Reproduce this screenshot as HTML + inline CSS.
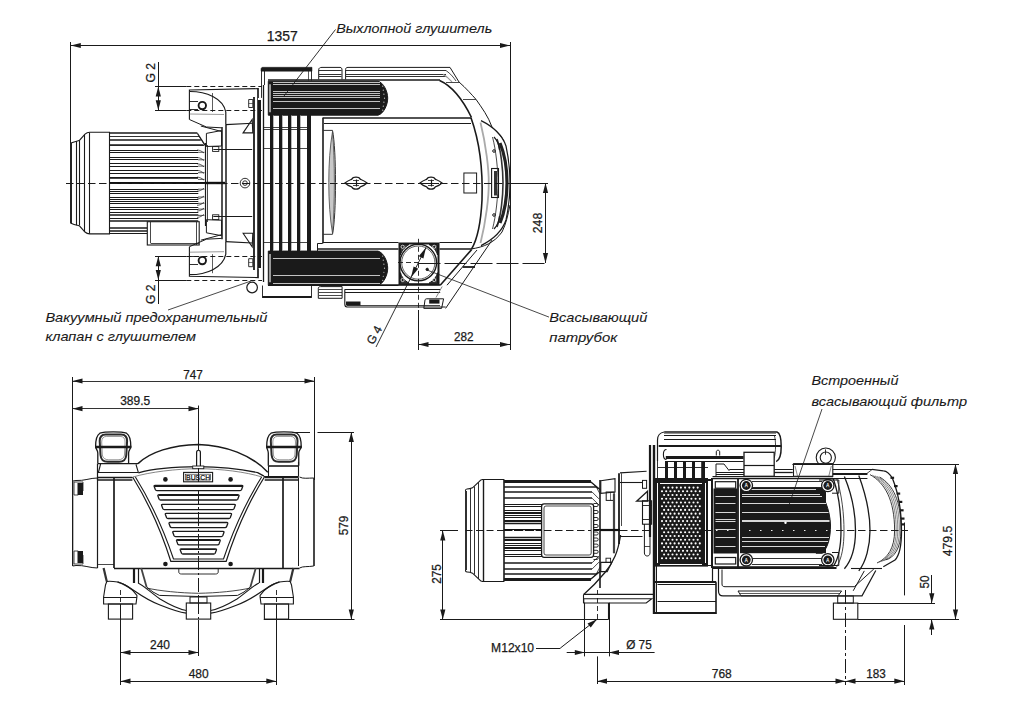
<!DOCTYPE html>
<html><head><meta charset="utf-8"><style>
html,body{margin:0;padding:0;background:#fff;overflow:hidden;}
svg{display:block;}
text{font-family:"Liberation Sans",sans-serif;}
</style></head><body>
<svg width="1024" height="721" viewBox="0 0 1024 721">
<rect width="1024" height="721" fill="#fff"/>
<path d="M71,143 C74,141.6 77,141 79.4,140.4 L85,134.2 C86.5,132.8 88,132.3 89.6,132.3 L109.5,132.3 L109.5,233.9 L89.6,233.9 C88,233.9 86.5,233.4 85,232 L79.4,225.8 C77,225.2 74,224.6 71,223.2 Z" stroke="#1a1a1a" stroke-width="1.1" fill="none"/>
<line x1="71" y1="143" x2="71" y2="223.2" stroke="#1a1a1a" stroke-width="1.8"/>
<line x1="76.5" y1="141" x2="76.5" y2="225.2" stroke="#1a1a1a" stroke-width="1.1"/>
<line x1="79.5" y1="141" x2="79.5" y2="225.2" stroke="#1a1a1a" stroke-width="1.1"/>
<line x1="84.5" y1="134.5" x2="84.5" y2="231.7" stroke="#1a1a1a" stroke-width="1.1"/>
<line x1="89.5" y1="132.5" x2="89.5" y2="233.7" stroke="#1a1a1a" stroke-width="1.1"/>
<line x1="109.5" y1="133" x2="197.4" y2="133" stroke="#1a1a1a" stroke-width="1.6"/>
<line x1="109.5" y1="136.5" x2="198.995" y2="136.5" stroke="#1a1a1a" stroke-width="0.9"/>
<line x1="109.5" y1="140" x2="200.81" y2="140" stroke="#1a1a1a" stroke-width="1.5"/>
<line x1="109.5" y1="145" x2="203.56" y2="145" stroke="#1a1a1a" stroke-width="1.5"/>
<line x1="109.5" y1="145.5" x2="204.275" y2="145.5" stroke="#1a1a1a" stroke-width="0.8"/>
<line x1="109.5" y1="150.5" x2="198" y2="150.5" stroke="#1a1a1a" stroke-width="1"/>
<line x1="109.5" y1="152.5" x2="198" y2="152.5" stroke="#1a1a1a" stroke-width="1"/>
<line x1="109.5" y1="157.5" x2="198" y2="157.5" stroke="#1a1a1a" stroke-width="1"/>
<line x1="109.5" y1="159.5" x2="198" y2="159.5" stroke="#1a1a1a" stroke-width="1"/>
<line x1="109.5" y1="163.5" x2="198" y2="163.5" stroke="#1a1a1a" stroke-width="1"/>
<line x1="109.5" y1="166.5" x2="198" y2="166.5" stroke="#1a1a1a" stroke-width="1"/>
<line x1="109.5" y1="170.5" x2="198" y2="170.5" stroke="#1a1a1a" stroke-width="1"/>
<line x1="109.5" y1="173.5" x2="198" y2="173.5" stroke="#1a1a1a" stroke-width="1"/>
<line x1="109.5" y1="177.5" x2="198" y2="177.5" stroke="#1a1a1a" stroke-width="1"/>
<line x1="109.5" y1="178.5" x2="198" y2="178.5" stroke="#1a1a1a" stroke-width="0.8"/>
<line x1="109.5" y1="189.5" x2="198.3" y2="189.5" stroke="#1a1a1a" stroke-width="1"/>
<line x1="109.5" y1="191.5" x2="198.3" y2="191.5" stroke="#1a1a1a" stroke-width="1"/>
<line x1="109.5" y1="193.5" x2="198.3" y2="193.5" stroke="#1a1a1a" stroke-width="1"/>
<line x1="109.5" y1="197.5" x2="198.3" y2="197.5" stroke="#1a1a1a" stroke-width="1"/>
<line x1="109.5" y1="199.5" x2="198.3" y2="199.5" stroke="#1a1a1a" stroke-width="1"/>
<line x1="109.5" y1="201.5" x2="198.3" y2="201.5" stroke="#1a1a1a" stroke-width="1"/>
<line x1="109.5" y1="203.5" x2="198.3" y2="203.5" stroke="#1a1a1a" stroke-width="1"/>
<line x1="109.5" y1="207.5" x2="198.3" y2="207.5" stroke="#1a1a1a" stroke-width="1"/>
<line x1="109.5" y1="209.5" x2="198.3" y2="209.5" stroke="#1a1a1a" stroke-width="1"/>
<line x1="109.5" y1="212.5" x2="198.3" y2="212.5" stroke="#1a1a1a" stroke-width="1"/>
<line x1="109.5" y1="215" x2="198.3" y2="215" stroke="#1a1a1a" stroke-width="1.5"/>
<line x1="109.5" y1="218.5" x2="198.3" y2="218.5" stroke="#1a1a1a" stroke-width="1"/>
<line x1="109.5" y1="221" x2="198.3" y2="221" stroke="#1a1a1a" stroke-width="1.5"/>
<path d="M197,150 C200,150 202,151.5 204,153 M198,152.3 L204.5,152.3" stroke="#1a1a1a" stroke-width="0.7" fill="none"/>
<path d="M197,157.5 C200,157.5 202,159.0 204,160.5 M198,159.8 L204.5,159.8" stroke="#1a1a1a" stroke-width="0.7" fill="none"/>
<path d="M197,163.8 C200,163.8 202,165.3 204,166.8 M198,166.10000000000002 L204.5,166.10000000000002" stroke="#1a1a1a" stroke-width="0.7" fill="none"/>
<path d="M197,170.4 C200,170.4 202,171.9 204,173.4 M198,172.70000000000002 L204.5,172.70000000000002" stroke="#1a1a1a" stroke-width="0.7" fill="none"/>
<path d="M197,177.1 C200,177.1 202,178.6 204,180.1 M198,179.4 L204.5,179.4" stroke="#1a1a1a" stroke-width="0.7" fill="none"/>
<path d="M197,191.2 C200,191.2 202,189.7 204,188.2 M198,189.2 L204.5,189.2" stroke="#1a1a1a" stroke-width="0.7" fill="none"/>
<path d="M197,199 C200,199 202,197.5 204,196 M198,197 L204.5,197" stroke="#1a1a1a" stroke-width="0.7" fill="none"/>
<path d="M197,205.3 C200,205.3 202,203.8 204,202.3 M198,203.3 L204.5,203.3" stroke="#1a1a1a" stroke-width="0.7" fill="none"/>
<path d="M197,211.1 C200,211.1 202,209.6 204,208.1 M198,209.1 L204.5,209.1" stroke="#1a1a1a" stroke-width="0.7" fill="none"/>
<path d="M197,217.4 C200,217.4 202,215.9 204,214.4 M198,215.4 L204.5,215.4" stroke="#1a1a1a" stroke-width="0.7" fill="none"/>
<line x1="197.4" y1="133.4" x2="205" y2="145" stroke="#1a1a1a" stroke-width="1.2"/>
<line x1="199" y1="136.3" x2="205" y2="145.5" stroke="#1a1a1a" stroke-width="0.8"/>
<line x1="109.5" y1="183" x2="205" y2="183" stroke="#111" stroke-width="1.8"/>
<line x1="114.3" y1="183.5" x2="205" y2="183.5" stroke="#fff" stroke-width="1" stroke-dasharray="1.5,9.4"/>
<line x1="205.5" y1="143" x2="205.5" y2="226" stroke="#1a1a1a" stroke-width="1.2"/>
<line x1="207.5" y1="145" x2="207.5" y2="222" stroke="#1a1a1a" stroke-width="0.8"/>
<line x1="110" y1="228" x2="147.3" y2="228" stroke="#1a1a1a" stroke-width="1.6"/>
<line x1="110" y1="231" x2="147.3" y2="231" stroke="#1a1a1a" stroke-width="1.6"/>
<line x1="110" y1="233.5" x2="147.3" y2="233.5" stroke="#1a1a1a" stroke-width="1.1"/>
<rect x="147.3" y="221.7" width="51.9" height="23.3" rx="0" stroke="#1a1a1a" stroke-width="1.1" fill="#fff"/>
<line x1="150.5" y1="222" x2="150.5" y2="243.1" stroke="#1a1a1a" stroke-width="0.8"/>
<line x1="150.7" y1="243.5" x2="199" y2="243.5" stroke="#1a1a1a" stroke-width="0.8"/>
<line x1="196.5" y1="222" x2="196.5" y2="245" stroke="#1a1a1a" stroke-width="0.8"/>
<path d="M189.4,119.5 L189.4,90 L258.3,88.6 L258.3,97.9" stroke="#1a1a1a" stroke-width="1.1" fill="none"/>
<path d="M190,91.5 C206,91.5 223,98 225.8,112 L225.8,124.6" stroke="#1a1a1a" stroke-width="1.2" fill="none"/>
<line x1="212.5" y1="93" x2="212.5" y2="112" stroke="#1a1a1a" stroke-width="0.7"/>
<circle cx="202.3" cy="105.6" r="3.7" stroke="#1a1a1a" stroke-width="1.9" fill="none"/>
<line x1="189.4" y1="101.5" x2="198" y2="101.5" stroke="#1a1a1a" stroke-width="0.9"/>
<line x1="189.4" y1="109.5" x2="198" y2="109.5" stroke="#1a1a1a" stroke-width="0.9"/>
<path d="M189.4,119.5 L206.4,127 L221.6,127.8" stroke="#1a1a1a" stroke-width="1" fill="none"/>
<line x1="200.8" y1="126" x2="221.6" y2="131.5" stroke="#1a1a1a" stroke-width="1"/>
<line x1="189.4" y1="114" x2="224" y2="114.5" stroke="#555" stroke-width="0.6"/>
<path d="M206.4,133.4 L221.6,130.5 L221.6,146 L206.4,146.5 Z" stroke="#1a1a1a" stroke-width="1" fill="none"/>
<rect x="212.6" y="146.6" width="6.2" height="4.8" rx="0" stroke="#1a1a1a" stroke-width="0.9" fill="none"/>
<line x1="225.8" y1="124.6" x2="252.5" y2="123.2" stroke="#1a1a1a" stroke-width="1.1"/>
<line x1="213.3" y1="149.5" x2="252.2" y2="149.5" stroke="#1a1a1a" stroke-width="1.1"/>
<path d="M243.1,132.9 L252.2,119.5 L252.8,132.9 Z" stroke="#1a1a1a" stroke-width="1.1" fill="none"/>
<path d="M248.7,99.5 L252.8,99.5 L252.8,107.5 L248.7,107.5 Z" stroke="#1a1a1a" stroke-width="0.9" fill="none"/>
<line x1="248.7" y1="103.5" x2="252.8" y2="103.5" stroke="#1a1a1a" stroke-width="0.6"/>
<path d="M189.4,246.7 L189.4,276.2 L258.3,277.6 L258.3,268.3" stroke="#1a1a1a" stroke-width="1.1" fill="none"/>
<path d="M190,274.7 C206,274.7 223,268.2 225.8,254.2 L225.8,241.6" stroke="#1a1a1a" stroke-width="1.2" fill="none"/>
<line x1="212.5" y1="273.2" x2="212.5" y2="254.2" stroke="#1a1a1a" stroke-width="0.7"/>
<circle cx="202.3" cy="260.6" r="3.7" stroke="#1a1a1a" stroke-width="1.9" fill="none"/>
<line x1="189.4" y1="264.5" x2="198" y2="264.5" stroke="#1a1a1a" stroke-width="0.9"/>
<line x1="189.4" y1="256.5" x2="198" y2="256.5" stroke="#1a1a1a" stroke-width="0.9"/>
<path d="M189.4,246.7 L206.4,239.2 L221.6,238.4" stroke="#1a1a1a" stroke-width="1" fill="none"/>
<line x1="200.8" y1="240.2" x2="221.6" y2="234.7" stroke="#1a1a1a" stroke-width="1"/>
<line x1="189.4" y1="252.2" x2="224" y2="251.7" stroke="#555" stroke-width="0.6"/>
<path d="M206.4,232.8 L221.6,235.7 L221.6,220.2 L206.4,219.7 Z" stroke="#1a1a1a" stroke-width="1" fill="none"/>
<rect x="212.6" y="214.8" width="6.2" height="4.8" rx="0" stroke="#1a1a1a" stroke-width="0.9" fill="none"/>
<line x1="225.8" y1="241.6" x2="252.5" y2="243.0" stroke="#1a1a1a" stroke-width="1.1"/>
<line x1="213.3" y1="216.5" x2="252.2" y2="216.5" stroke="#1a1a1a" stroke-width="1.1"/>
<path d="M243.1,233.3 L252.2,246.7 L252.8,233.3 Z" stroke="#1a1a1a" stroke-width="1.1" fill="none"/>
<path d="M248.7,266.7 L252.8,266.7 L252.8,258.7 L248.7,258.7 Z" stroke="#1a1a1a" stroke-width="0.9" fill="none"/>
<line x1="248.7" y1="262.5" x2="252.8" y2="262.5" stroke="#1a1a1a" stroke-width="0.6"/>
<line x1="222" y1="127" x2="222" y2="239.3" stroke="#1a1a1a" stroke-width="1.5"/>
<line x1="226" y1="124.6" x2="226" y2="241.6" stroke="#1a1a1a" stroke-width="1.5"/>
<line x1="243" y1="183.5" x2="250" y2="183.5" stroke="#1a1a1a" stroke-width="0.8"/>
<circle cx="245" cy="183.1" r="4.8" stroke="#1a1a1a" stroke-width="0.9" fill="none"/>
<circle cx="245" cy="183.1" r="2.3" stroke="#1a1a1a" stroke-width="0.9" fill="none"/>
<line x1="205" y1="183" x2="225" y2="183" stroke="#111" stroke-width="2.4"/>
<line x1="254" y1="97" x2="254" y2="270" stroke="#1a1a1a" stroke-width="1.8"/>
<line x1="257.5" y1="88.6" x2="257.5" y2="277.6" stroke="#1a1a1a" stroke-width="0.8"/>
<line x1="259.5" y1="100" x2="259.5" y2="268" stroke="#1a1a1a" stroke-width="3"/>
<line x1="263.5" y1="85" x2="263.5" y2="282" stroke="#1a1a1a" stroke-width="1.3"/>
<path d="M261,71.2 L261,69 C261,67.8 262,67.3 263,67.3 L312,67.3 L312,71.2 Z" stroke="#1a1a1a" stroke-width="0.5" fill="#1a1a1a"/>
<line x1="261.5" y1="71" x2="261.5" y2="97.9" stroke="#1a1a1a" stroke-width="0.9"/>
<line x1="264.5" y1="71" x2="264.5" y2="85" stroke="#1a1a1a" stroke-width="0.9"/>
<line x1="311.5" y1="71" x2="311.5" y2="80.5" stroke="#1a1a1a" stroke-width="0.9"/>
<line x1="308.5" y1="71" x2="308.5" y2="80.5" stroke="#1a1a1a" stroke-width="0.7"/>
<line x1="262.5" y1="285.5" x2="262.5" y2="297.7" stroke="#1a1a1a" stroke-width="0.9"/>
<line x1="311.5" y1="285.5" x2="311.5" y2="297.7" stroke="#1a1a1a" stroke-width="0.9"/>
<line x1="262.2" y1="297" x2="311.6" y2="297" stroke="#1a1a1a" stroke-width="2.2"/>
<path d="M268.3,81.2 L378,81.2 C383.5,82.7 387.7,91.2 387.7,98.2 C387.7,105.2 383.5,113.7 378,115.2 L268.3,115.2 Z" stroke="#1a1a1a" stroke-width="1" fill="#1a1a1a"/>
<line x1="273" y1="82.5" x2="380" y2="82.5" stroke="#eee" stroke-width="0.8"/>
<line x1="273" y1="84.5" x2="380" y2="84.5" stroke="#eee" stroke-width="0.8"/>
<line x1="273" y1="91.5" x2="380" y2="91.5" stroke="#eee" stroke-width="0.8"/>
<line x1="273" y1="93.5" x2="380" y2="93.5" stroke="#eee" stroke-width="0.8"/>
<line x1="273" y1="95.5" x2="380" y2="95.5" stroke="#eee" stroke-width="0.8"/>
<line x1="273" y1="97.5" x2="380" y2="97.5" stroke="#eee" stroke-width="0.8"/>
<line x1="273" y1="101.5" x2="380" y2="101.5" stroke="#eee" stroke-width="0.8"/>
<line x1="273" y1="108.5" x2="380" y2="108.5" stroke="#eee" stroke-width="0.8"/>
<line x1="270" y1="84.2" x2="270" y2="112.2" stroke="#bbb" stroke-width="1.6"/>
<circle cx="382.7" cy="86.2" r="0.6" stroke="#1a1a1a" stroke-width="0" fill="#ccc"/>
<circle cx="383.3" cy="90.2" r="0.6" stroke="#1a1a1a" stroke-width="0" fill="#ccc"/>
<circle cx="383.9" cy="94.2" r="0.6" stroke="#1a1a1a" stroke-width="0" fill="#ccc"/>
<circle cx="384.5" cy="98.2" r="0.6" stroke="#1a1a1a" stroke-width="0" fill="#ccc"/>
<circle cx="383.9" cy="102.2" r="0.6" stroke="#1a1a1a" stroke-width="0" fill="#ccc"/>
<circle cx="383.3" cy="106.2" r="0.6" stroke="#1a1a1a" stroke-width="0" fill="#ccc"/>
<circle cx="382.7" cy="110.2" r="0.6" stroke="#1a1a1a" stroke-width="0" fill="#ccc"/>
<path d="M268.3,251.1 L378,251.1 C383.5,252.6 387.7,261.2 387.7,268.2 C387.7,275.2 383.5,283.8 378,285.3 L268.3,285.3 Z" stroke="#1a1a1a" stroke-width="1" fill="#1a1a1a"/>
<line x1="273" y1="258.5" x2="380" y2="258.5" stroke="#eee" stroke-width="0.8"/>
<line x1="273" y1="275.5" x2="380" y2="275.5" stroke="#eee" stroke-width="0.8"/>
<line x1="273" y1="283.5" x2="380" y2="283.5" stroke="#eee" stroke-width="0.8"/>
<line x1="270" y1="254.1" x2="270" y2="282.3" stroke="#bbb" stroke-width="1.6"/>
<circle cx="382.685" cy="256.1" r="0.6" stroke="#1a1a1a" stroke-width="0" fill="#ccc"/>
<circle cx="383.29" cy="260.13" r="0.6" stroke="#1a1a1a" stroke-width="0" fill="#ccc"/>
<circle cx="383.895" cy="264.17" r="0.6" stroke="#1a1a1a" stroke-width="0" fill="#ccc"/>
<circle cx="384.5" cy="268.2" r="0.6" stroke="#1a1a1a" stroke-width="0" fill="#ccc"/>
<circle cx="383.895" cy="272.23" r="0.6" stroke="#1a1a1a" stroke-width="0" fill="#ccc"/>
<circle cx="383.28999999999996" cy="276.27" r="0.6" stroke="#1a1a1a" stroke-width="0" fill="#ccc"/>
<circle cx="382.685" cy="280.3" r="0.6" stroke="#1a1a1a" stroke-width="0" fill="#ccc"/>
<line x1="268" y1="80" x2="440" y2="80" stroke="#1a1a1a" stroke-width="1.6"/>
<line x1="271.5" y1="115" x2="271.5" y2="251" stroke="#1a1a1a" stroke-width="3"/>
<line x1="280.5" y1="115" x2="280.5" y2="251" stroke="#1a1a1a" stroke-width="3"/>
<line x1="289.5" y1="115" x2="289.5" y2="251" stroke="#1a1a1a" stroke-width="3"/>
<line x1="298.5" y1="115" x2="298.5" y2="251" stroke="#1a1a1a" stroke-width="3"/>
<line x1="308.5" y1="115" x2="308.5" y2="251" stroke="#1a1a1a" stroke-width="3"/>
<line x1="273.5" y1="115" x2="273.5" y2="251" stroke="#888" stroke-width="0.6"/>
<line x1="282.5" y1="115" x2="282.5" y2="251" stroke="#888" stroke-width="0.6"/>
<line x1="291.5" y1="115" x2="291.5" y2="251" stroke="#888" stroke-width="0.6"/>
<line x1="300.5" y1="115" x2="300.5" y2="251" stroke="#888" stroke-width="0.6"/>
<line x1="310.5" y1="115" x2="310.5" y2="251" stroke="#888" stroke-width="0.6"/>
<line x1="310.5" y1="115" x2="310.5" y2="251" stroke="#1a1a1a" stroke-width="1"/>
<line x1="264" y1="127.5" x2="310.5" y2="127.5" stroke="#1a1a1a" stroke-width="0.8"/>
<line x1="264" y1="129.5" x2="310.5" y2="129.5" stroke="#1a1a1a" stroke-width="0.8"/>
<line x1="264" y1="148.5" x2="310.5" y2="148.5" stroke="#1a1a1a" stroke-width="0.8"/>
<line x1="264" y1="242.5" x2="310.5" y2="242.5" stroke="#1a1a1a" stroke-width="0.8"/>
<line x1="323" y1="117.8" x2="323" y2="243.3" stroke="#1a1a1a" stroke-width="1.6"/>
<line x1="322.7" y1="118" x2="471" y2="118" stroke="#1a1a1a" stroke-width="1.6"/>
<line x1="324" y1="123.5" x2="471" y2="123.5" stroke="#1a1a1a" stroke-width="1"/>
<line x1="322.7" y1="243.5" x2="317.7" y2="243.5" stroke="#1a1a1a" stroke-width="1"/>
<line x1="317.5" y1="243.3" x2="317.5" y2="251" stroke="#1a1a1a" stroke-width="1"/>
<line x1="322.7" y1="242.5" x2="398.5" y2="242.5" stroke="#1a1a1a" stroke-width="1"/>
<line x1="318" y1="249" x2="398.5" y2="249" stroke="#1a1a1a" stroke-width="1.6"/>
<line x1="439.5" y1="242.5" x2="472" y2="242.5" stroke="#1a1a1a" stroke-width="1"/>
<line x1="439.5" y1="249" x2="471.6" y2="249" stroke="#1a1a1a" stroke-width="1.6"/>
<path d="M322.8,130.4 L332.5,130.4 C336.5,150 336.5,215 332.5,234.3 L322.8,234.3" stroke="#333" stroke-width="1" fill="none"/>
<path d="M332.5,131.5 C327.5,160 327.5,205 332.5,233.3 C335,205 335,160 332.5,131.5 Z" stroke="#444" stroke-width="0.8" fill="#c8c8c8"/>
<path d="M471,117.8 C479,140 483,170 482,200 C481,220 478,238 471.6,249" stroke="#1a1a1a" stroke-width="1.6" fill="none"/>
<path d="M480.5,122.5 C486,145 489,170 488.7,183 C489,196 486,221 480.5,243" stroke="#aaa" stroke-width="1.8" fill="none"/>
<path d="M345.6,79.4 L345.6,69.5 C345.6,68 346.5,67.4 348,67.4 L450,67.4 L459,82 C466,88 472,95 476,99.4 C482,108 488,116 492,127 C497,132 502,137 504,141" stroke="#1a1a1a" stroke-width="1" fill="none"/>
<path d="M318.7,79.4 L318.7,69.8 C318.7,68 320,67.4 322,67.4 L340,67.4 C341.5,67.4 342,68.5 342,70 L342,79.4" stroke="#1a1a1a" stroke-width="1" fill="none"/>
<line x1="319" y1="70.5" x2="341.5" y2="70.5" stroke="#1a1a1a" stroke-width="0.9"/>
<line x1="346" y1="70.5" x2="446" y2="70.5" stroke="#1a1a1a" stroke-width="0.9"/>
<line x1="319" y1="74.5" x2="341.5" y2="74.5" stroke="#1a1a1a" stroke-width="0.9"/>
<line x1="346" y1="74.5" x2="446" y2="74.5" stroke="#1a1a1a" stroke-width="0.9"/>
<line x1="319" y1="76.5" x2="341.5" y2="76.5" stroke="#1a1a1a" stroke-width="0.9"/>
<line x1="346" y1="76.5" x2="446" y2="76.5" stroke="#1a1a1a" stroke-width="0.9"/>
<path d="M439.6,80.5 C452,86 462,98 471.5,117.5" stroke="#1a1a1a" stroke-width="1.6" fill="none"/>
<path d="M446,70.5 C451,74 454,78 456,81" stroke="#1a1a1a" stroke-width="0.8" fill="none"/>
<path d="M443,74.4 C448,77 450,80 452,82" stroke="#999" stroke-width="1.2" fill="none"/>
<line x1="446" y1="82.5" x2="459" y2="82.5" stroke="#1a1a1a" stroke-width="0.8"/>
<line x1="463" y1="99.5" x2="476" y2="99.5" stroke="#1a1a1a" stroke-width="0.8"/>
<path d="M481,120.6 C492,126 502,134 506,146 C509,160 510,172 510,183" stroke="#1a1a1a" stroke-width="1.2" fill="none"/>
<path d="M481,245.6 C492,240 502,232 506,220 C509,206 510,194 510,183" stroke="#1a1a1a" stroke-width="1.2" fill="none"/>
<path d="M500,143 C505,155 507,170 507,183 C507,196 505,211 500,223" stroke="#222" stroke-width="3.2" fill="none"/>
<path d="M497,139 C501,150 503,170 503,183 C503,196 501,216 497,227" stroke="#333" stroke-width="1.6" fill="none"/>
<path d="M494,137 C497,140 499,145 499.5,150 M494,229 C497,226 499,221 499.5,216" stroke="#1a1a1a" stroke-width="1.2" fill="none"/>
<path d="M492.5,137 C496,150 498,170 498,183 C498,196 496,216 492.5,229" stroke="#1a1a1a" stroke-width="0.8" fill="none"/>
<circle cx="494" cy="151" r="1.3" stroke="#1a1a1a" stroke-width="1" fill="none"/>
<circle cx="494" cy="215" r="1.3" stroke="#1a1a1a" stroke-width="1" fill="none"/>
<rect x="491.6" y="168.5" width="6.9" height="29" rx="0" stroke="#1a1a1a" stroke-width="1.1" fill="none"/>
<line x1="495.5" y1="171" x2="495.5" y2="195.5" stroke="#333" stroke-width="3"/>
<rect x="463.9" y="173" width="12.7" height="20" rx="0" stroke="#1a1a1a" stroke-width="1" fill="none"/>
<path d="M345,183.1 C349,179.5 351,180 352,179 C353,176.5 359,176.5 360,179 C361,180 363,179.5 367,183.1 C363,186.7 361,186.2 360,187.2 C359,189.7 353,189.7 352,187.2 C351,186.2 349,186.7 345,183.1 Z" stroke="#1a1a1a" stroke-width="1.3" fill="#fff"/>
<line x1="348" y1="183.5" x2="364" y2="183.5" stroke="#1a1a1a" stroke-width="1"/>
<line x1="356.5" y1="179.5" x2="356.5" y2="186.5" stroke="#1a1a1a" stroke-width="1.2"/>
<line x1="353" y1="180.5" x2="359" y2="180.5" stroke="#1a1a1a" stroke-width="0.8"/>
<line x1="353" y1="185.5" x2="359" y2="185.5" stroke="#1a1a1a" stroke-width="0.8"/>
<path d="M420,183.1 C424,179.5 426,180 427,179 C428,176.5 434,176.5 435,179 C436,180 438,179.5 442,183.1 C438,186.7 436,186.2 435,187.2 C434,189.7 428,189.7 427,187.2 C426,186.2 424,186.7 420,183.1 Z" stroke="#1a1a1a" stroke-width="1.3" fill="#fff"/>
<line x1="423" y1="183.5" x2="439" y2="183.5" stroke="#1a1a1a" stroke-width="1"/>
<line x1="431.5" y1="179.5" x2="431.5" y2="186.5" stroke="#1a1a1a" stroke-width="1.2"/>
<line x1="428" y1="180.5" x2="434" y2="180.5" stroke="#1a1a1a" stroke-width="0.8"/>
<line x1="428" y1="185.5" x2="434" y2="185.5" stroke="#1a1a1a" stroke-width="0.8"/>
<rect x="398.5" y="242.5" width="41" height="42.7" rx="0" fill="#1a1a1a"/>
<circle cx="418.3" cy="262.6" r="18.3" stroke="#1a1a1a" stroke-width="0" fill="#fff"/>
<rect x="400.5" y="244.5" width="37" height="38.7" rx="0" fill="#fff"/>
<circle cx="418.3" cy="262.6" r="18.3" stroke="#1a1a1a" stroke-width="1.4" fill="none"/>
<circle cx="418.3" cy="262.6" r="16.6" stroke="#1a1a1a" stroke-width="0.7" fill="none"/>
<path d="M400.5,244.5 L409,244.5 C404,247.5 401.5,251 400.5,255 Z M437.5,244.5 L429,244.5 C434,247.5 436.5,251 437.5,255 Z M400.5,283.2 L409,283.2 C404,280.2 401.5,276.7 400.5,272.7 Z M437.5,283.2 L429,283.2 C434,280.2 436.5,276.7 437.5,272.7 Z" stroke="#1a1a1a" stroke-width="1" fill="#3a3a3a"/>
<circle cx="402.6" cy="246.8" r="1.6" stroke="#ddd" stroke-width="0.9" fill="#222"/>
<circle cx="434.2" cy="246.8" r="1.6" stroke="#ddd" stroke-width="0.9" fill="#222"/>
<circle cx="402.6" cy="280" r="1.6" stroke="#ddd" stroke-width="0.9" fill="#222"/>
<circle cx="434.2" cy="280" r="1.6" stroke="#ddd" stroke-width="0.9" fill="#222"/>
<line x1="418.5" y1="238.8" x2="418.5" y2="310" stroke="#1a1a1a" stroke-width="0.9" stroke-dasharray="5,3"/>
<line x1="398" y1="262.5" x2="420" y2="262.5" stroke="#1a1a1a" stroke-width="0.9" stroke-dasharray="5,3"/>
<polygon points="426.00,247.50 418.76,256.18 423.41,258.50" fill="#1a1a1a"/>
<polygon points="411.00,277.50 418.24,268.82 413.59,266.50" fill="#1a1a1a"/>
<circle cx="427.2" cy="269.4" r="1.2" stroke="#1a1a1a" stroke-width="1" fill="#1a1a1a"/>
<line x1="268" y1="285.5" x2="398.5" y2="285.5" stroke="#1a1a1a" stroke-width="1"/>
<line x1="345" y1="285" x2="440.2" y2="285" stroke="#1a1a1a" stroke-width="1.6"/>
<line x1="345" y1="289.5" x2="440.2" y2="289.5" stroke="#1a1a1a" stroke-width="1"/>
<line x1="345" y1="292.5" x2="440.2" y2="292.5" stroke="#1a1a1a" stroke-width="1"/>
<path d="M344.8,289.3 L344.8,304 C344.8,306.5 345.5,307 347,307 L445.6,307" stroke="#1a1a1a" stroke-width="1.1" fill="none"/>
<line x1="347" y1="305.5" x2="440" y2="305.5" stroke="#1a1a1a" stroke-width="0.8"/>
<rect x="346" y="301.5" width="14.5" height="4" rx="0" fill="#1a1a1a"/>
<path d="M423.8,308.4 L425,300 C425.3,299 426,298.8 427,298.8 L443.6,298.8 L441.6,308.4 Z" stroke="#1a1a1a" stroke-width="1" fill="none"/>
<rect x="429.2" y="299.5" width="10.3" height="4.1" rx="0" fill="#1a1a1a"/>
<path d="M318.3,298.3 L318.3,288.5 C318.3,287.3 319,286.6 320.5,286.6 L342.1,286.6 L342.1,298.3 Z" stroke="#1a1a1a" stroke-width="1" fill="none"/>
<line x1="319" y1="289.5" x2="342" y2="289.5" stroke="#1a1a1a" stroke-width="0.8"/>
<line x1="319" y1="292.5" x2="342" y2="292.5" stroke="#1a1a1a" stroke-width="0.8"/>
<line x1="319" y1="295.5" x2="342" y2="295.5" stroke="#1a1a1a" stroke-width="0.8"/>
<line x1="440.2" y1="285.2" x2="471.6" y2="249.6" stroke="#1a1a1a" stroke-width="1.6"/>
<line x1="447" y1="285.2" x2="477" y2="250" stroke="#1a1a1a" stroke-width="1"/>
<line x1="436" y1="297.5" x2="442.2" y2="286.5" stroke="#777" stroke-width="0.9"/>
<path d="M445.6,308.4 L492.1,240" stroke="#1a1a1a" stroke-width="1" fill="none"/>
<path d="M471,249 C484,247 494,243 502,232 C506,224 508,215 510,205" stroke="#1a1a1a" stroke-width="1" fill="none"/>
<line x1="462.7" y1="267" x2="475" y2="267" stroke="#1a1a1a" stroke-width="1.8"/>
<circle cx="252.1" cy="287.5" r="5.3" stroke="#1a1a1a" stroke-width="1.2" fill="#fff"/>
<path d="M97.8,463.6 L97.8,453 C97.8,450 95.6,449 95.6,446.6 C95.6,440 96.89999999999999,435 99.89999999999999,433.2 C104.89999999999999,431.5 121.50000000000001,431.5 126.50000000000001,433.2 C129.5,435 130.8,440 130.8,446.6 C130.8,449 128.6,450 128.6,453 L128.6,463.6" stroke="#1a1a1a" stroke-width="1.3" fill="none"/>
<path d="M105.69999999999999,434.4 L121.10000000000001,434.4 C125.10000000000001,434.4 127.10000000000001,437 127.10000000000001,441 L126.30000000000001,455 C125.9,459.5 123.10000000000001,461.8 119.10000000000001,461.8 L107.69999999999999,461.8 C103.69999999999999,461.8 100.89999999999999,459.5 100.49999999999999,455 L99.69999999999999,441 C99.69999999999999,437 101.69999999999999,434.4 105.69999999999999,434.4 Z" stroke="#2a2a2a" stroke-width="2" fill="none"/>
<path d="M106.69999999999999,436.4 L120.10000000000001,436.4 C123.60000000000001,436.4 125.10000000000001,438.5 125.10000000000001,442 L124.50000000000001,455 C124.10000000000001,458 121.60000000000001,459.8 118.10000000000001,459.8 L108.69999999999999,459.8 C105.19999999999999,459.8 102.69999999999999,458 102.29999999999998,455 L101.69999999999999,442 C101.69999999999999,438.5 103.19999999999999,436.4 106.69999999999999,436.4 Z" stroke="#666" stroke-width="0.7" fill="none"/>
<line x1="95.0" y1="447" x2="131.4" y2="447" stroke="#1a1a1a" stroke-width="2.3"/>
<path d="M268.3,465.8 L268.3,453 C268.3,450 266.7,449 266.7,446.6 C266.7,440 268.0,435 271.0,433.2 C276.0,431.5 291.9,431.5 296.9,433.2 C299.9,435 301.2,440 301.2,446.6 C301.2,449 298.75,450 298.75,453 L298.75,465.8" stroke="#1a1a1a" stroke-width="1.3" fill="none"/>
<path d="M276.8,434.4 L291.5,434.4 C295.5,434.4 297.5,437 297.5,441 L296.7,455 C296.3,459.5 293.5,461.8 289.5,461.8 L278.8,461.8 C274.8,461.8 272.0,459.5 271.6,455 L270.8,441 C270.8,437 272.8,434.4 276.8,434.4 Z" stroke="#2a2a2a" stroke-width="2" fill="none"/>
<path d="M277.8,436.4 L290.5,436.4 C294.0,436.4 295.5,438.5 295.5,442 L294.9,455 C294.5,458 292.0,459.8 288.5,459.8 L279.8,459.8 C276.3,459.8 273.8,458 273.40000000000003,455 L272.8,442 C272.8,438.5 274.3,436.4 277.8,436.4 Z" stroke="#666" stroke-width="0.7" fill="none"/>
<line x1="266.09999999999997" y1="447" x2="301.8" y2="447" stroke="#1a1a1a" stroke-width="2.3"/>
<path d="M97.8,463.6 L138,463.6 M100.6,464 L98.4,472.5 M136,464.5 L138.4,472.6" stroke="#1a1a1a" stroke-width="1.1" fill="none"/>
<line x1="97.8" y1="472.5" x2="138.4" y2="472.5" stroke="#1a1a1a" stroke-width="1.1"/>
<line x1="97.8" y1="477.5" x2="132.4" y2="477.5" stroke="#1a1a1a" stroke-width="1.3"/>
<line x1="97.8" y1="480" x2="132.4" y2="480" stroke="#1a1a1a" stroke-width="1.5"/>
<line x1="97.5" y1="463.6" x2="97.5" y2="480" stroke="#1a1a1a" stroke-width="1.2"/>
<line x1="268.2" y1="466" x2="298.7" y2="466" stroke="#1a1a1a" stroke-width="1.6"/>
<line x1="268.5" y1="466" x2="268.5" y2="476.1" stroke="#1a1a1a" stroke-width="1.1"/>
<line x1="298.5" y1="462" x2="298.5" y2="476.1" stroke="#1a1a1a" stroke-width="1.1"/>
<line x1="264" y1="476.5" x2="298.7" y2="476.5" stroke="#1a1a1a" stroke-width="1.1"/>
<line x1="264.7" y1="477.5" x2="298.7" y2="477.5" stroke="#1a1a1a" stroke-width="1.3"/>
<line x1="264.7" y1="480" x2="298.7" y2="480" stroke="#1a1a1a" stroke-width="1.5"/>
<path d="M138,463.6 C150,452 172,445 198.5,444.4 C225,445 252,455 267.8,472.2" stroke="#1a1a1a" stroke-width="1.5" fill="none"/>
<path d="M138.4,472.8 C155,468 175,466.7 198.5,466.6 C222,466.7 243,469.5 257.7,472.6 L264,476.1" stroke="#1a1a1a" stroke-width="1.3" fill="none"/>
<path d="M133,477 C150,472 176,468.8 198.5,468.7 C221,468.8 246,472 262,477" stroke="#666" stroke-width="0.8" fill="none"/>
<path d="M196.6,468.5 L196.6,452.5 C196.6,449.5 200.4,449.5 200.4,452.5 L200.4,468.5" stroke="#1a1a1a" stroke-width="1.2" fill="none"/>
<rect x="192.7" y="466" width="11.1" height="2.7" rx="0" stroke="#1a1a1a" stroke-width="0.9" fill="#fff"/>
<rect x="183.6" y="472.4" width="29" height="9.4" rx="0" stroke="#1a1a1a" stroke-width="1.1" fill="none"/>
<rect x="185.5" y="474.2" width="25" height="5.8" rx="0" stroke="#1a1a1a" stroke-width="0.6" fill="none"/>
<text x="198.1" y="479.6" font-size="7" text-anchor="middle" fill="#111" stroke="#111" stroke-width="0.25" textLength="24" lengthAdjust="spacingAndGlyphs">BUSCH</text>
<line x1="97.5" y1="478" x2="97.5" y2="568" stroke="#1a1a1a" stroke-width="1.2"/>
<line x1="114" y1="478" x2="114" y2="568" stroke="#1a1a1a" stroke-width="1.7"/>
<line x1="283" y1="478" x2="283" y2="568" stroke="#1a1a1a" stroke-width="1.7"/>
<line x1="298.5" y1="478" x2="298.5" y2="566" stroke="#1a1a1a" stroke-width="1"/>
<line x1="314" y1="478" x2="314" y2="566" stroke="#1a1a1a" stroke-width="1.6"/>
<line x1="114" y1="568.5" x2="299.5" y2="568.5" stroke="#1a1a1a" stroke-width="1.3"/>
<line x1="97.5" y1="564.5" x2="114" y2="564.5" stroke="#1a1a1a" stroke-width="0.8"/>
<path d="M97.5,478 C90,478 84,481 76,480.5 L72.8,481 L72.8,566 L76,565.5 C84,565 90,568 97.5,568" stroke="#1a1a1a" stroke-width="1" fill="none"/>
<path d="M74,482 L83,482 L83,491 L78,495 L74,495 Z" stroke="#1a1a1a" stroke-width="0.8" fill="none"/>
<rect x="77.5" y="483" width="5.5" height="12" rx="0" fill="#1a1a1a"/>
<path d="M74,564 L83,564 L83,555 L78,551 L74,551 Z" stroke="#1a1a1a" stroke-width="0.8" fill="none"/>
<rect x="77.5" y="551" width="5.5" height="12" rx="0" fill="#1a1a1a"/>
<path d="M299.5,477 C303,479 308,478 313.8,478" stroke="#1a1a1a" stroke-width="1" fill="none"/>
<path d="M299.5,568 C303,566 308,567 313.8,566" stroke="#1a1a1a" stroke-width="1" fill="none"/>
<path d="M132.6,477 C145,497 160,527 170.8,561.3 L226.2,561.3 C237,527 252,497 264.4,477" stroke="#1a1a1a" stroke-width="1.2" fill="none"/>
<path d="M135.4,477 C147.8,497 162.8,527 173.5,559 L223.5,559 C234.2,527 249.2,497 261.6,477" stroke="#1a1a1a" stroke-width="1.1" fill="none"/>
<path d="M155.00,485.40 L241.90,485.40 Q243.10,485.40 242.70,486.60 L241.50,489.80 Q241.10,490.60 240.10,490.60 L156.80,490.60 Q155.80,490.60 155.40,489.80 L154.20,486.60 Q153.80,485.40 155.00,485.40 Z" stroke="#1a1a1a" stroke-width="1.3" fill="none"/>
<line x1="154.8" y1="486" x2="242.1" y2="486" stroke="#1a1a1a" stroke-width="2.2"/>
<path d="M158.73,494.80 L238.14,494.80 Q239.34,494.80 238.94,496.00 L237.74,499.20 Q237.34,500.00 236.34,500.00 L160.53,500.00 Q159.53,500.00 159.13,499.20 L157.93,496.00 Q157.53,494.80 158.73,494.80 Z" stroke="#1a1a1a" stroke-width="1.3" fill="none"/>
<line x1="158.52857142857144" y1="495" x2="238.34285714285713" y2="495" stroke="#1a1a1a" stroke-width="2.2"/>
<path d="M162.46,504.40 L234.39,504.40 Q235.59,504.40 235.19,505.60 L233.99,508.80 Q233.59,509.60 232.59,509.60 L164.26,509.60 Q163.26,509.60 162.86,508.80 L161.66,505.60 Q161.26,504.40 162.46,504.40 Z" stroke="#1a1a1a" stroke-width="1.3" fill="none"/>
<line x1="162.25714285714287" y1="504.5" x2="234.5857142857143" y2="504.5" stroke="#1a1a1a" stroke-width="1.2"/>
<path d="M166.19,513.30 L230.63,513.30 Q231.83,513.30 231.43,514.50 L230.23,517.70 Q229.83,518.50 228.83,518.50 L167.99,518.50 Q166.99,518.50 166.59,517.70 L165.39,514.50 Q164.99,513.30 166.19,513.30 Z" stroke="#1a1a1a" stroke-width="1.3" fill="none"/>
<line x1="165.9857142857143" y1="513.5" x2="230.82857142857142" y2="513.5" stroke="#1a1a1a" stroke-width="1.2"/>
<path d="M169.91,522.50 L226.87,522.50 Q228.07,522.50 227.67,523.70 L226.47,526.90 Q226.07,527.70 225.07,527.70 L171.71,527.70 Q170.71,527.70 170.31,526.90 L169.11,523.70 Q168.71,522.50 169.91,522.50 Z" stroke="#1a1a1a" stroke-width="1.3" fill="none"/>
<line x1="169.71428571428572" y1="522.5" x2="227.07142857142858" y2="522.5" stroke="#1a1a1a" stroke-width="1.2"/>
<path d="M173.64,531.40 L223.11,531.40 Q224.31,531.40 223.91,532.60 L222.71,535.80 Q222.31,536.60 221.31,536.60 L175.44,536.60 Q174.44,536.60 174.04,535.80 L172.84,532.60 Q172.44,531.40 173.64,531.40 Z" stroke="#1a1a1a" stroke-width="1.3" fill="none"/>
<line x1="173.44285714285715" y1="531.5" x2="223.31428571428572" y2="531.5" stroke="#1a1a1a" stroke-width="1.2"/>
<path d="M177.37,539.70 L219.36,539.70 Q220.56,539.70 220.16,540.90 L218.96,544.10 Q218.56,544.90 217.56,544.90 L179.17,544.90 Q178.17,544.90 177.77,544.10 L176.57,540.90 Q176.17,539.70 177.37,539.70 Z" stroke="#1a1a1a" stroke-width="1.3" fill="none"/>
<line x1="177.17142857142858" y1="540.5" x2="219.55714285714288" y2="540.5" stroke="#1a1a1a" stroke-width="1.2"/>
<path d="M181.10,548.80 L215.60,548.80 Q216.80,548.80 216.40,550.00 L215.20,553.20 Q214.80,554.00 213.80,554.00 L182.90,554.00 Q181.90,554.00 181.50,553.20 L180.30,550.00 Q179.90,548.80 181.10,548.80 Z" stroke="#1a1a1a" stroke-width="1.3" fill="none"/>
<line x1="180.9" y1="549.5" x2="215.8" y2="549.5" stroke="#1a1a1a" stroke-width="1.2"/>
<circle cx="165.4" cy="479.4" r="2.3" stroke="#1a1a1a" stroke-width="0" fill="#1a1a1a"/>
<circle cx="230.6" cy="479.4" r="2.3" stroke="#1a1a1a" stroke-width="0" fill="#1a1a1a"/>
<circle cx="165.4" cy="564" r="2.3" stroke="#1a1a1a" stroke-width="0" fill="#1a1a1a"/>
<circle cx="230.6" cy="564" r="2.3" stroke="#1a1a1a" stroke-width="0" fill="#1a1a1a"/>
<path d="M178.8,568 L178.8,572 C178.8,573.5 180,574 181.5,574 L215.5,574 C217,574 218.2,573.5 218.2,572 L218.2,568" stroke="#1a1a1a" stroke-width="0.9" fill="none"/>
<path d="M103.6,568 L106.8,581.5" stroke="#333" stroke-width="2.2" fill="none"/>
<path d="M106.8,581.5 C110,581 114,581.5 117.6,582 C126,584 133,590 136.9,595.4 L136.9,597 L136,604 L103.6,604 L103.6,597 L105.5,585 Z" stroke="#1a1a1a" stroke-width="1.1" fill="none"/>
<line x1="103.6" y1="597.5" x2="136.9" y2="597.5" stroke="#1a1a1a" stroke-width="1"/>
<rect x="108.4" y="604" width="24.2" height="15.1" rx="0" stroke="#1a1a1a" stroke-width="1.1" fill="none"/>
<line x1="134" y1="568" x2="134" y2="583" stroke="#1a1a1a" stroke-width="2.2"/>
<line x1="138.5" y1="568" x2="138.5" y2="583" stroke="#1a1a1a" stroke-width="1.2"/>
<path d="M141.2,568 L146.6,586.9" stroke="#444" stroke-width="1.8" fill="none"/>
<path d="M117.6,582 C130,585 140,598 160,605 C170,609 178,612 186.3,613.2" stroke="#1a1a1a" stroke-width="1.3" fill="none"/>
<path d="M138,583 C143,585 150,592 160,599 C170,605 178,609 186.3,610.5" stroke="#1a1a1a" stroke-width="1.1" fill="none"/>
<path d="M146.6,587 L153,592 L159.4,595.4 L198.5,596.5" stroke="#1a1a1a" stroke-width="1" fill="none"/>
<path d="M146.6,588 C160,591 180,593 198.5,593.3" stroke="#1a1a1a" stroke-width="0.8" fill="none"/>
<path d="M293.4,568 L290.2,581.5" stroke="#333" stroke-width="2.2" fill="none"/>
<path d="M290.2,581.5 C287.0,581 283.0,581.5 279.4,582 C271.0,584 264.0,590 260.1,595.4 L260.1,597 L261.0,604 L293.4,604 L293.4,597 L291.5,585 Z" stroke="#1a1a1a" stroke-width="1.1" fill="none"/>
<line x1="293.4" y1="597.5" x2="260.1" y2="597.5" stroke="#1a1a1a" stroke-width="1"/>
<rect x="264.4" y="604" width="24.2" height="15.1" rx="0" stroke="#1a1a1a" stroke-width="1.1" fill="none"/>
<line x1="263" y1="568" x2="263" y2="583" stroke="#1a1a1a" stroke-width="2.2"/>
<line x1="259.5" y1="568" x2="259.5" y2="583" stroke="#1a1a1a" stroke-width="1.2"/>
<path d="M255.8,568 L250.4,586.9" stroke="#444" stroke-width="1.8" fill="none"/>
<path d="M279.4,582 C267.0,585 257.0,598 237.0,605 C227.0,609 219.0,612 210.7,613.2" stroke="#1a1a1a" stroke-width="1.3" fill="none"/>
<path d="M259.0,583 C254.0,585 247.0,592 237.0,599 C227.0,605 219.0,609 210.7,610.5" stroke="#1a1a1a" stroke-width="1.1" fill="none"/>
<path d="M250.4,587 L244.0,592 L237.6,595.4 L198.5,596.5" stroke="#1a1a1a" stroke-width="1" fill="none"/>
<path d="M250.4,588 C237.0,591 217.0,593 198.5,593.3" stroke="#1a1a1a" stroke-width="0.8" fill="none"/>
<rect x="186.3" y="603" width="24.4" height="16.1" rx="0" stroke="#1a1a1a" stroke-width="1.1" fill="#fff"/>
<rect x="190" y="597" width="17" height="6" rx="0" stroke="#1a1a1a" stroke-width="1" fill="none"/>
<line x1="198.5" y1="597" x2="198.5" y2="604" stroke="#1a1a1a" stroke-width="0.9" stroke-dasharray="3,2"/>
<line x1="120.5" y1="590" x2="120.5" y2="604" stroke="#1a1a1a" stroke-width="0.9" stroke-dasharray="5,2"/>
<line x1="276.5" y1="590" x2="276.5" y2="604" stroke="#1a1a1a" stroke-width="0.9" stroke-dasharray="5,2"/>
<line x1="120.5" y1="604" x2="120.5" y2="619" stroke="#1a1a1a" stroke-width="0.9" stroke-dasharray="5,2"/>
<line x1="276.5" y1="604" x2="276.5" y2="619" stroke="#1a1a1a" stroke-width="0.9" stroke-dasharray="5,2"/>
<path d="M465.4,491 C465.4,489.5 466,489 467,489 C469,489 471,488.5 472.5,487.8 L479.1,481.6 C480.2,480.3 481.3,479.5 482.5,479.5 L504.1,479.5" stroke="#1a1a1a" stroke-width="1.1" fill="none"/>
<path d="M465.4,570.0 C465.4,571.5 466,572.0 467,572.0 C469,572.0 471,572.5 472.5,573.2 L479.1,579.4 C480.2,580.7 481.3,581.5 482.5,581.5 L504.1,581.5" stroke="#1a1a1a" stroke-width="1.1" fill="none"/>
<line x1="466" y1="491" x2="466" y2="570" stroke="#1a1a1a" stroke-width="1.8"/>
<line x1="470.5" y1="488.9" x2="470.5" y2="572.1" stroke="#1a1a1a" stroke-width="0.9"/>
<line x1="474.5" y1="486.5" x2="474.5" y2="574.5" stroke="#1a1a1a" stroke-width="0.9"/>
<line x1="478.5" y1="482.2" x2="478.5" y2="578.8" stroke="#1a1a1a" stroke-width="0.9"/>
<line x1="483.5" y1="479.5" x2="483.5" y2="581.5" stroke="#1a1a1a" stroke-width="1.4"/>
<line x1="504" y1="479.5" x2="504" y2="581.5" stroke="#1a1a1a" stroke-width="1.6"/>
<line x1="504.1" y1="481.5" x2="590.9449999999999" y2="481.5" stroke="#1a1a1a" stroke-width="2.8"/>
<line x1="590.9449999999999" y1="481.9" x2="597.9449999999999" y2="488.9" stroke="#1a1a1a" stroke-width="0.8"/>
<line x1="504.1" y1="579.5" x2="590.9449999999999" y2="579.5" stroke="#1a1a1a" stroke-width="2.8"/>
<line x1="590.9449999999999" y1="579.1" x2="597.9449999999999" y2="572.1" stroke="#1a1a1a" stroke-width="0.8"/>
<line x1="504.1" y1="487" x2="596.1949999999999" y2="487" stroke="#1a1a1a" stroke-width="1.5"/>
<line x1="596.1949999999999" y1="486.9" x2="600" y2="493.9" stroke="#1a1a1a" stroke-width="0.8"/>
<line x1="504.1" y1="574" x2="596.1949999999999" y2="574" stroke="#1a1a1a" stroke-width="1.5"/>
<line x1="596.1949999999999" y1="574.1" x2="600" y2="567.1" stroke="#1a1a1a" stroke-width="0.8"/>
<line x1="504.1" y1="492" x2="592" y2="492" stroke="#1a1a1a" stroke-width="1.5"/>
<line x1="592" y1="491.9" x2="599" y2="498.9" stroke="#1a1a1a" stroke-width="0.8"/>
<line x1="504.1" y1="569" x2="592" y2="569" stroke="#1a1a1a" stroke-width="1.5"/>
<line x1="592" y1="569.1" x2="599" y2="562.1" stroke="#1a1a1a" stroke-width="0.8"/>
<line x1="504.1" y1="498" x2="592" y2="498" stroke="#1a1a1a" stroke-width="1.5"/>
<line x1="592" y1="498.1" x2="599" y2="505.1" stroke="#1a1a1a" stroke-width="0.8"/>
<line x1="504.1" y1="563" x2="592" y2="563" stroke="#1a1a1a" stroke-width="1.5"/>
<line x1="592" y1="562.9" x2="599" y2="555.9" stroke="#1a1a1a" stroke-width="0.8"/>
<line x1="504.1" y1="504.5" x2="592" y2="504.5" stroke="#1a1a1a" stroke-width="1"/>
<line x1="504.1" y1="556.5" x2="592" y2="556.5" stroke="#1a1a1a" stroke-width="1"/>
<line x1="504.1" y1="506.5" x2="592" y2="506.5" stroke="#1a1a1a" stroke-width="1"/>
<line x1="504.1" y1="554.5" x2="592" y2="554.5" stroke="#1a1a1a" stroke-width="1"/>
<line x1="504.1" y1="510.5" x2="592" y2="510.5" stroke="#1a1a1a" stroke-width="1"/>
<line x1="504.1" y1="550.5" x2="592" y2="550.5" stroke="#1a1a1a" stroke-width="1"/>
<line x1="504.1" y1="512.5" x2="592" y2="512.5" stroke="#1a1a1a" stroke-width="1"/>
<line x1="504.1" y1="548.5" x2="592" y2="548.5" stroke="#1a1a1a" stroke-width="1"/>
<line x1="504.1" y1="513.5" x2="592" y2="513.5" stroke="#1a1a1a" stroke-width="1"/>
<line x1="504.1" y1="547.5" x2="592" y2="547.5" stroke="#1a1a1a" stroke-width="1"/>
<line x1="504.1" y1="515.5" x2="592" y2="515.5" stroke="#1a1a1a" stroke-width="1"/>
<line x1="504.1" y1="545.5" x2="592" y2="545.5" stroke="#1a1a1a" stroke-width="1"/>
<line x1="504.1" y1="517.5" x2="592" y2="517.5" stroke="#1a1a1a" stroke-width="1"/>
<line x1="504.1" y1="543.5" x2="592" y2="543.5" stroke="#1a1a1a" stroke-width="1"/>
<line x1="504.1" y1="520.5" x2="592" y2="520.5" stroke="#1a1a1a" stroke-width="1"/>
<line x1="504.1" y1="540.5" x2="592" y2="540.5" stroke="#1a1a1a" stroke-width="1"/>
<line x1="504.1" y1="521.5" x2="592" y2="521.5" stroke="#1a1a1a" stroke-width="1"/>
<line x1="504.1" y1="539.5" x2="592" y2="539.5" stroke="#1a1a1a" stroke-width="1"/>
<line x1="504.1" y1="523.5" x2="592" y2="523.5" stroke="#1a1a1a" stroke-width="1.4"/>
<line x1="504.1" y1="537.5" x2="592" y2="537.5" stroke="#1a1a1a" stroke-width="1.4"/>
<line x1="465.5" y1="530.5" x2="504" y2="530.5" stroke="#1a1a1a" stroke-width="1" stroke-dasharray="7,3.5"/>
<line x1="504.1" y1="530" x2="600" y2="530" stroke="#111" stroke-width="2"/>
<line x1="512.5" y1="530.5" x2="600" y2="530.5" stroke="#fff" stroke-width="1" stroke-dasharray="1.5,9.3"/>
<path d="M593.5,503.5 L597,503.5 C598.6,503.5 598.6,506.5 597,506.5 L593.5,506.5" stroke="#1a1a1a" stroke-width="0.9" fill="none"/>
<path d="M593.5,510.5 L597,510.5 C598.6,510.5 598.6,513.5 597,513.5 L593.5,513.5" stroke="#1a1a1a" stroke-width="0.9" fill="none"/>
<path d="M593.5,517.5 L597,517.5 C598.6,517.5 598.6,520.5 597,520.5 L593.5,520.5" stroke="#1a1a1a" stroke-width="0.9" fill="none"/>
<path d="M593.5,524.5 L597,524.5 C598.6,524.5 598.6,527.5 597,527.5 L593.5,527.5" stroke="#1a1a1a" stroke-width="0.9" fill="none"/>
<path d="M593.5,532.0 L597,532.0 C598.6,532.0 598.6,535.0 597,535.0 L593.5,535.0" stroke="#1a1a1a" stroke-width="0.9" fill="none"/>
<path d="M593.5,538.0 L597,538.0 C598.6,538.0 598.6,541.0 597,541.0 L593.5,541.0" stroke="#1a1a1a" stroke-width="0.9" fill="none"/>
<path d="M593.5,544.1 L597,544.1 C598.6,544.1 598.6,547.1 597,547.1 L593.5,547.1" stroke="#1a1a1a" stroke-width="0.9" fill="none"/>
<path d="M593.5,550.3 L597,550.3 C598.6,550.3 598.6,553.3 597,553.3 L593.5,553.3" stroke="#1a1a1a" stroke-width="0.9" fill="none"/>
<path d="M593.5,556.5 L597,556.5 C598.6,556.5 598.6,559.5 597,559.5 L593.5,559.5" stroke="#1a1a1a" stroke-width="0.9" fill="none"/>
<line x1="600" y1="480" x2="600" y2="588" stroke="#1a1a1a" stroke-width="1.6"/>
<line x1="590" y1="481.2" x2="600.5" y2="490" stroke="#1a1a1a" stroke-width="1.3"/>
<line x1="590" y1="579.8" x2="600.5" y2="571.0" stroke="#1a1a1a" stroke-width="1.3"/>
<rect x="541.6" y="503.8" width="52" height="53.5" rx="2.5" stroke="#1a1a1a" stroke-width="1.3" fill="#fff"/>
<rect x="544" y="506" width="47.2" height="49" rx="2" stroke="#1a1a1a" stroke-width="0.8" fill="none"/>
<line x1="544" y1="530.5" x2="591" y2="530.5" stroke="#1a1a1a" stroke-width="1" stroke-dasharray="7.5,3.5"/>
<path d="M600.8,480.8 L615,478.7 L615,492 L600.8,493.3 Z" stroke="#1a1a1a" stroke-width="1.1" fill="none"/>
<path d="M600.8,562.4 L611.8,562.4 L607.2,571.6 L600.8,571.6 Z" stroke="#1a1a1a" stroke-width="1.1" fill="none"/>
<rect x="606" y="558.2" width="4.6" height="4.2" rx="0" stroke="#1a1a1a" stroke-width="0.9" fill="none"/>
<rect x="606.2" y="492" width="7.9" height="8.4" rx="0" stroke="#1a1a1a" stroke-width="1" fill="none"/>
<line x1="610.5" y1="492" x2="610.5" y2="500.4" stroke="#1a1a1a" stroke-width="0.6"/>
<line x1="614" y1="493.7" x2="614" y2="553.3" stroke="#444" stroke-width="2.2"/>
<line x1="619" y1="473.3" x2="619" y2="544" stroke="#1a1a1a" stroke-width="1.8"/>
<line x1="621.5" y1="473.3" x2="621.5" y2="526" stroke="#1a1a1a" stroke-width="0.8"/>
<path d="M620,472.9 L646.6,471.2" stroke="#1a1a1a" stroke-width="1.1" fill="none"/>
<line x1="620" y1="482.5" x2="642.5" y2="482.5" stroke="#1a1a1a" stroke-width="1.1"/>
<rect x="642.5" y="480.4" width="4.1" height="7.9" rx="0" stroke="#1a1a1a" stroke-width="1" fill="none"/>
<line x1="650" y1="445" x2="650" y2="537" stroke="#1a1a1a" stroke-width="2.2"/>
<path d="M636.6,501.2 L647.5,491.2 L647.5,501.2 Z" stroke="#1a1a1a" stroke-width="1.3" fill="none"/>
<rect x="642.5" y="500.8" width="9.1" height="23.4" rx="0" stroke="#1a1a1a" stroke-width="1.1" fill="none"/>
<line x1="642.5" y1="505.5" x2="651.6" y2="505.5" stroke="#1a1a1a" stroke-width="0.9"/>
<line x1="642.5" y1="519.5" x2="651.6" y2="519.5" stroke="#1a1a1a" stroke-width="0.9"/>
<line x1="620" y1="536.5" x2="642.5" y2="536.5" stroke="#1a1a1a" stroke-width="1"/>
<path d="M644.4,524 L644.4,553 C644.4,557 650,557 650,553 L650,524" stroke="#1a1a1a" stroke-width="1" fill="none"/>
<line x1="644.4" y1="546.5" x2="650" y2="546.5" stroke="#1a1a1a" stroke-width="0.8"/>
<line x1="600" y1="530" x2="620" y2="530" stroke="#111" stroke-width="2.2"/>
<line x1="620" y1="530.5" x2="656" y2="530.5" stroke="#1a1a1a" stroke-width="1" stroke-dasharray="7.5,3.5"/>
<path d="M620.6,535 C619,545 617,552 615,556.2 C612,563 608,569 605,572.5 C598,581 590,589 583.7,594.4" stroke="#1a1a1a" stroke-width="1.3" fill="none"/>
<path d="M583.7,594.4 L653.7,594.4 M583.7,598.7 L651.8,598.7 L646.2,603 L583.7,603 Z" stroke="#1a1a1a" stroke-width="1.1" fill="none"/>
<line x1="583.5" y1="594.4" x2="583.5" y2="603" stroke="#1a1a1a" stroke-width="1.1"/>
<line x1="584.5" y1="603" x2="584.5" y2="619.3" stroke="#1a1a1a" stroke-width="1.1"/>
<line x1="608.5" y1="603" x2="608.5" y2="619.3" stroke="#1a1a1a" stroke-width="1.1"/>
<line x1="597.5" y1="590" x2="597.5" y2="619" stroke="#1a1a1a" stroke-width="0.9" stroke-dasharray="5,3"/>
<line x1="654" y1="445" x2="654" y2="614" stroke="#1a1a1a" stroke-width="2.4"/>
<line x1="657.5" y1="444" x2="657.5" y2="566" stroke="#1a1a1a" stroke-width="0.9"/>
<rect x="653" y="478" width="55" height="88.6" rx="0" fill="#1a1a1a"/>
<line x1="657.5" y1="483" x2="657.5" y2="563" stroke="#fff" stroke-width="1"/>
<line x1="705.5" y1="483" x2="705.5" y2="563" stroke="#fff" stroke-width="1"/>
<line x1="660" y1="483.5" x2="702" y2="483.5" stroke="#fff" stroke-width="1"/>
<line x1="660" y1="564.5" x2="702" y2="564.5" stroke="#fff" stroke-width="1"/>
<path d="M664.10,487.60h0.01 M668.30,487.60h0.01 M672.50,487.60h0.01 M676.70,487.60h0.01 M680.90,487.60h0.01 M685.10,487.60h0.01 M689.30,487.60h0.01 M693.50,487.60h0.01 M697.70,487.60h0.01 M662.00,491.32h0.01 M666.20,491.32h0.01 M670.40,491.32h0.01 M674.60,491.32h0.01 M678.80,491.32h0.01 M683.00,491.32h0.01 M687.20,491.32h0.01 M691.40,491.32h0.01 M695.60,491.32h0.01 M699.80,491.32h0.01 M664.10,495.04h0.01 M668.30,495.04h0.01 M672.50,495.04h0.01 M676.70,495.04h0.01 M680.90,495.04h0.01 M685.10,495.04h0.01 M689.30,495.04h0.01 M693.50,495.04h0.01 M697.70,495.04h0.01 M662.00,498.76h0.01 M666.20,498.76h0.01 M670.40,498.76h0.01 M674.60,498.76h0.01 M678.80,498.76h0.01 M683.00,498.76h0.01 M687.20,498.76h0.01 M691.40,498.76h0.01 M695.60,498.76h0.01 M699.80,498.76h0.01 M664.10,502.48h0.01 M668.30,502.48h0.01 M672.50,502.48h0.01 M676.70,502.48h0.01 M680.90,502.48h0.01 M685.10,502.48h0.01 M689.30,502.48h0.01 M693.50,502.48h0.01 M697.70,502.48h0.01 M662.00,506.20h0.01 M666.20,506.20h0.01 M670.40,506.20h0.01 M674.60,506.20h0.01 M678.80,506.20h0.01 M683.00,506.20h0.01 M687.20,506.20h0.01 M691.40,506.20h0.01 M695.60,506.20h0.01 M699.80,506.20h0.01 M664.10,509.92h0.01 M668.30,509.92h0.01 M672.50,509.92h0.01 M676.70,509.92h0.01 M680.90,509.92h0.01 M685.10,509.92h0.01 M689.30,509.92h0.01 M693.50,509.92h0.01 M697.70,509.92h0.01 M662.00,513.64h0.01 M666.20,513.64h0.01 M670.40,513.64h0.01 M674.60,513.64h0.01 M678.80,513.64h0.01 M683.00,513.64h0.01 M687.20,513.64h0.01 M691.40,513.64h0.01 M695.60,513.64h0.01 M699.80,513.64h0.01 M664.10,517.36h0.01 M668.30,517.36h0.01 M672.50,517.36h0.01 M676.70,517.36h0.01 M680.90,517.36h0.01 M685.10,517.36h0.01 M689.30,517.36h0.01 M693.50,517.36h0.01 M697.70,517.36h0.01 M662.00,521.08h0.01 M666.20,521.08h0.01 M670.40,521.08h0.01 M674.60,521.08h0.01 M678.80,521.08h0.01 M683.00,521.08h0.01 M687.20,521.08h0.01 M691.40,521.08h0.01 M695.60,521.08h0.01 M699.80,521.08h0.01 M664.10,524.80h0.01 M668.30,524.80h0.01 M672.50,524.80h0.01 M676.70,524.80h0.01 M680.90,524.80h0.01 M685.10,524.80h0.01 M689.30,524.80h0.01 M693.50,524.80h0.01 M697.70,524.80h0.01 M662.00,528.52h0.01 M666.20,528.52h0.01 M670.40,528.52h0.01 M674.60,528.52h0.01 M678.80,528.52h0.01 M683.00,528.52h0.01 M687.20,528.52h0.01 M691.40,528.52h0.01 M695.60,528.52h0.01 M699.80,528.52h0.01 M664.10,532.24h0.01 M668.30,532.24h0.01 M672.50,532.24h0.01 M676.70,532.24h0.01 M680.90,532.24h0.01 M685.10,532.24h0.01 M689.30,532.24h0.01 M693.50,532.24h0.01 M697.70,532.24h0.01 M662.00,535.96h0.01 M666.20,535.96h0.01 M670.40,535.96h0.01 M674.60,535.96h0.01 M678.80,535.96h0.01 M683.00,535.96h0.01 M687.20,535.96h0.01 M691.40,535.96h0.01 M695.60,535.96h0.01 M699.80,535.96h0.01 M664.10,539.68h0.01 M668.30,539.68h0.01 M672.50,539.68h0.01 M676.70,539.68h0.01 M680.90,539.68h0.01 M685.10,539.68h0.01 M689.30,539.68h0.01 M693.50,539.68h0.01 M697.70,539.68h0.01 M662.00,543.40h0.01 M666.20,543.40h0.01 M670.40,543.40h0.01 M674.60,543.40h0.01 M678.80,543.40h0.01 M683.00,543.40h0.01 M687.20,543.40h0.01 M691.40,543.40h0.01 M695.60,543.40h0.01 M699.80,543.40h0.01 M664.10,547.12h0.01 M668.30,547.12h0.01 M672.50,547.12h0.01 M676.70,547.12h0.01 M680.90,547.12h0.01 M685.10,547.12h0.01 M689.30,547.12h0.01 M693.50,547.12h0.01 M697.70,547.12h0.01 M662.00,550.84h0.01 M666.20,550.84h0.01 M670.40,550.84h0.01 M674.60,550.84h0.01 M678.80,550.84h0.01 M683.00,550.84h0.01 M687.20,550.84h0.01 M691.40,550.84h0.01 M695.60,550.84h0.01 M699.80,550.84h0.01 M664.10,554.56h0.01 M668.30,554.56h0.01 M672.50,554.56h0.01 M676.70,554.56h0.01 M680.90,554.56h0.01 M685.10,554.56h0.01 M689.30,554.56h0.01 M693.50,554.56h0.01 M697.70,554.56h0.01 M662.00,558.28h0.01 M666.20,558.28h0.01 M670.40,558.28h0.01 M674.60,558.28h0.01 M678.80,558.28h0.01 M683.00,558.28h0.01 M687.20,558.28h0.01 M691.40,558.28h0.01 M695.60,558.28h0.01 M699.80,558.28h0.01" stroke="#fff" stroke-width="2.1" stroke-linecap="round"/>
<line x1="712" y1="478" x2="712" y2="568" stroke="#1a1a1a" stroke-width="2"/>
<path d="M664.2,432 L777,432 C780,433 781.2,440 781.2,446.5 C781.2,453 780,460 776.2,461.6" stroke="#1a1a1a" stroke-width="1.5" fill="none"/>
<path d="M774.2,435 C776,440 776,452 774.2,458" stroke="#1a1a1a" stroke-width="0.8" fill="none"/>
<line x1="664" y1="433.5" x2="776" y2="433.5" stroke="#777" stroke-width="0.8"/>
<line x1="664" y1="435.5" x2="776" y2="435.5" stroke="#1a1a1a" stroke-width="1.2"/>
<line x1="664" y1="439.5" x2="776" y2="439.5" stroke="#1a1a1a" stroke-width="1"/>
<line x1="658.7" y1="446" x2="781" y2="446" stroke="#1a1a1a" stroke-width="1.8"/>
<line x1="665.8" y1="457.5" x2="743.5" y2="457.5" stroke="#1a1a1a" stroke-width="3.2"/>
<line x1="665" y1="461.5" x2="743.5" y2="461.5" stroke="#1a1a1a" stroke-width="1"/>
<path d="M664.2,432 C660,432.5 657.5,436 657.5,440 L657.5,447" stroke="#1a1a1a" stroke-width="1.2" fill="none"/>
<path d="M657.5,447 L657.5,461" stroke="#1a1a1a" stroke-width="1.2" fill="none"/>
<path d="M716.3,455.5 L716.3,452 C716.3,449.6 719.7,449.6 719.7,452 L719.7,455.5" stroke="#1a1a1a" stroke-width="1" fill="#fff"/>
<path d="M666.5,449.5 C663.5,449.5 663.4,452 663.4,454.5 C663.4,457 663.5,459.5 666.5,459.5" stroke="#1a1a1a" stroke-width="1.1" fill="none"/>
<rect x="744" y="452.3" width="30.2" height="24" rx="0" stroke="#1a1a1a" stroke-width="1.3" fill="#fff"/>
<line x1="744" y1="465.5" x2="774.2" y2="465.5" stroke="#1a1a1a" stroke-width="1.2"/>
<line x1="666.5" y1="461" x2="666.5" y2="478.3" stroke="#1a1a1a" stroke-width="3"/>
<line x1="675.5" y1="461" x2="675.5" y2="478.3" stroke="#1a1a1a" stroke-width="3"/>
<line x1="684.5" y1="461" x2="684.5" y2="478.3" stroke="#1a1a1a" stroke-width="3"/>
<line x1="693.5" y1="461" x2="693.5" y2="478.3" stroke="#1a1a1a" stroke-width="3"/>
<line x1="703.5" y1="461" x2="703.5" y2="478.3" stroke="#1a1a1a" stroke-width="3"/>
<line x1="658" y1="467.5" x2="708" y2="467.5" stroke="#1a1a1a" stroke-width="0.9"/>
<line x1="658" y1="480" x2="712" y2="480" stroke="#1a1a1a" stroke-width="2"/>
<path d="M716,476 L716,464 L724,464 L729.3,470.9" stroke="#1a1a1a" stroke-width="1" fill="none"/>
<line x1="729.3" y1="469.5" x2="744" y2="469.5" stroke="#1a1a1a" stroke-width="1"/>
<line x1="716" y1="472.5" x2="744" y2="472.5" stroke="#1a1a1a" stroke-width="1"/>
<line x1="716" y1="474.5" x2="744" y2="474.5" stroke="#1a1a1a" stroke-width="1"/>
<line x1="774.2" y1="469.5" x2="792.8" y2="469.5" stroke="#1a1a1a" stroke-width="1"/>
<line x1="774.2" y1="472.5" x2="792.8" y2="472.5" stroke="#1a1a1a" stroke-width="1.3"/>
<line x1="701.5" y1="461" x2="701.5" y2="480" stroke="#1a1a1a" stroke-width="0.8"/>
<line x1="712.5" y1="476.5" x2="833" y2="476.5" stroke="#1a1a1a" stroke-width="1"/>
<line x1="712.5" y1="478.5" x2="833" y2="478.5" stroke="#1a1a1a" stroke-width="1.3"/>
<line x1="712.5" y1="568" x2="836.5" y2="568" stroke="#1a1a1a" stroke-width="1.8"/>
<line x1="712.5" y1="566.5" x2="833" y2="566.5" stroke="#1a1a1a" stroke-width="0.8"/>
<rect x="713.5" y="488.5" width="24" height="65" rx="0" fill="#1a1a1a"/>
<rect x="740" y="487.6" width="86" height="65.6" rx="0" fill="#1a1a1a"/>
<path d="M816,487.6 C824,495 830,510 830.5,525 C830.5,538 828,547 822.5,553.2 L816,553.2 Z" stroke="#1a1a1a" stroke-width="1" fill="#1a1a1a"/>
<line x1="715.5" y1="496.5" x2="735.5" y2="496.5" stroke="#eee" stroke-width="0.9"/>
<line x1="715.5" y1="503.5" x2="735.5" y2="503.5" stroke="#eee" stroke-width="0.9"/>
<line x1="715.5" y1="512.5" x2="735.5" y2="512.5" stroke="#eee" stroke-width="0.9"/>
<line x1="715.5" y1="519.5" x2="735.5" y2="519.5" stroke="#eee" stroke-width="0.9"/>
<line x1="715.5" y1="521.5" x2="735.5" y2="521.5" stroke="#eee" stroke-width="0.9"/>
<line x1="715.5" y1="529.5" x2="735.5" y2="529.5" stroke="#eee" stroke-width="0.9"/>
<line x1="715.5" y1="537.5" x2="735.5" y2="537.5" stroke="#eee" stroke-width="0.9"/>
<line x1="715.5" y1="546.5" x2="735.5" y2="546.5" stroke="#eee" stroke-width="0.9"/>
<line x1="742" y1="489.5" x2="816" y2="489.5" stroke="#eee" stroke-width="0.9"/>
<line x1="742" y1="494.5" x2="820" y2="494.5" stroke="#eee" stroke-width="0.9"/>
<line x1="742" y1="496.5" x2="822" y2="496.5" stroke="#eee" stroke-width="0.9"/>
<line x1="742" y1="503.5" x2="826" y2="503.5" stroke="#eee" stroke-width="0.9"/>
<line x1="742" y1="512.5" x2="828.5" y2="512.5" stroke="#eee" stroke-width="0.9"/>
<line x1="742" y1="520.5" x2="829.5" y2="520.5" stroke="#eee" stroke-width="0.9"/>
<line x1="742" y1="521.5" x2="829.5" y2="521.5" stroke="#eee" stroke-width="0.9"/>
<line x1="742" y1="537.5" x2="829" y2="537.5" stroke="#eee" stroke-width="0.9"/>
<line x1="742" y1="541.5" x2="828" y2="541.5" stroke="#eee" stroke-width="0.9"/>
<line x1="742" y1="546.5" x2="825" y2="546.5" stroke="#eee" stroke-width="0.9"/>
<line x1="716" y1="530.5" x2="830" y2="530.5" stroke="#eee" stroke-width="1" stroke-dasharray="1.5,9.5"/>
<circle cx="785.5" cy="522.8" r="1.2" stroke="#1a1a1a" stroke-width="0" fill="#fff"/>
<line x1="738" y1="478.4" x2="738" y2="568.4" stroke="#1a1a1a" stroke-width="1.8"/>
<rect x="715.3" y="481.7" width="20.4" height="6.5" rx="0" stroke="#1a1a1a" stroke-width="1.2" fill="none"/>
<rect x="715.3" y="557.5" width="20.4" height="6.5" rx="0" stroke="#1a1a1a" stroke-width="1.2" fill="none"/>
<line x1="752" y1="481.5" x2="822" y2="481.5" stroke="#1a1a1a" stroke-width="0.9"/>
<line x1="752" y1="487.5" x2="822" y2="487.5" stroke="#1a1a1a" stroke-width="0.9"/>
<line x1="752" y1="558.5" x2="822" y2="558.5" stroke="#1a1a1a" stroke-width="0.9"/>
<line x1="752" y1="564.5" x2="822" y2="564.5" stroke="#1a1a1a" stroke-width="0.9"/>
<circle cx="746.3" cy="485.5" r="6.2" stroke="#1a1a1a" stroke-width="1.3" fill="#fff"/>
<circle cx="746.3" cy="485.5" r="4.4" stroke="#1a1a1a" stroke-width="0" fill="#1a1a1a"/>
<text x="746.3" y="487.3" font-size="4.5" text-anchor="middle" fill="#ddd" stroke="#ddd" stroke-width="0.25">A</text>
<circle cx="827.8" cy="485.5" r="6.2" stroke="#1a1a1a" stroke-width="1.3" fill="#fff"/>
<circle cx="827.8" cy="485.5" r="4.4" stroke="#1a1a1a" stroke-width="0" fill="#1a1a1a"/>
<text x="827.8" y="487.3" font-size="4.5" text-anchor="middle" fill="#ddd" stroke="#ddd" stroke-width="0.25">A</text>
<circle cx="746.3" cy="559.8" r="6.2" stroke="#1a1a1a" stroke-width="1.3" fill="#fff"/>
<circle cx="746.3" cy="559.8" r="4.4" stroke="#1a1a1a" stroke-width="0" fill="#1a1a1a"/>
<text x="746.3" y="561.5999999999999" font-size="4.5" text-anchor="middle" fill="#ddd" stroke="#ddd" stroke-width="0.25">A</text>
<circle cx="827.8" cy="559.8" r="6.2" stroke="#1a1a1a" stroke-width="1.3" fill="#fff"/>
<circle cx="827.8" cy="559.8" r="4.4" stroke="#1a1a1a" stroke-width="0" fill="#1a1a1a"/>
<text x="827.8" y="561.5999999999999" font-size="4.5" text-anchor="middle" fill="#ddd" stroke="#ddd" stroke-width="0.25">A</text>
<path d="M819,480 L838.8,480 L838.8,493.2 L832,493.2" stroke="#1a1a1a" stroke-width="1" fill="none"/>
<path d="M819,565.5 L838.8,565.5 L838.8,552.5 L832,552.5" stroke="#1a1a1a" stroke-width="1" fill="none"/>
<path d="M833.3,478.8 C839,495 841,515 841,530.5 C841,546 839,558 833.3,566.4" stroke="#1a1a1a" stroke-width="1.3" fill="none"/>
<path d="M836.6,478 C842,495 844,515 844,530.5 C844,546 842,558 836.6,567" stroke="#1a1a1a" stroke-width="0.8" fill="none"/>
<path d="M844.4,476.6 C852,495 855.5,515 855.5,530.5 C855.5,546 852,560 844.4,568.7" stroke="#1a1a1a" stroke-width="1.3" fill="none"/>
<path d="M858.8,475.5 C866,495 870,515 870,530.5 C870,546 866,562 858.8,570.9" stroke="#1a1a1a" stroke-width="1.3" fill="none"/>
<path d="M870.0,474.6 C885.0,483.0 894.6,500 894.6,530.5 C894.6,548 888.0,558 877.0,563.0" stroke="#222" stroke-width="0.9" fill="none"/>
<path d="M872.4,475.2 C887.0,483.5 896.2,500 896.2,530.5 C896.2,548 889.5,558 879.2,562.2" stroke="#555" stroke-width="0.7" fill="none"/>
<path d="M874.8,475.8 C889.0,484.0 897.8,500 897.8,530.5 C897.8,548 891.0,558 881.4,561.4" stroke="#555" stroke-width="0.7" fill="none"/>
<path d="M877.2,476.4 C891.0,484.5 899.4,500 899.4,530.5 C899.4,548 892.5,558 883.6,560.6" stroke="#555" stroke-width="0.7" fill="none"/>
<path d="M879.6,477.0 C893.0,485.0 901.0,500 901.0,530.5 C901.0,548 894.0,558 885.8,559.8" stroke="#222" stroke-width="0.9" fill="none"/>
<path d="M883.3,470.8 C887,471 890,474 892.5,478.5 C898,492 901.5,512 901.5,530.5 C901.5,546 899,556 895,560 L883.3,566.7" stroke="#1a1a1a" stroke-width="1.3" fill="none"/>
<rect x="890.5" y="476.7" width="3.6" height="2.2" rx="0" fill="#1a1a1a"/>
<rect x="894" y="485" width="3.6" height="2.2" rx="0" fill="#1a1a1a"/>
<rect x="896.6" y="492.5" width="3.6" height="2.2" rx="0" fill="#1a1a1a"/>
<rect x="898.7" y="500.8" width="3.6" height="2.2" rx="0" fill="#1a1a1a"/>
<rect x="900" y="509.2" width="3.6" height="2.2" rx="0" fill="#1a1a1a"/>
<rect x="900.9" y="517.5" width="3.6" height="2.2" rx="0" fill="#1a1a1a"/>
<rect x="901.3" y="523.3" width="3.6" height="2.2" rx="0" fill="#1a1a1a"/>
<line x1="851" y1="568.5" x2="882" y2="568.5" stroke="#1a1a1a" stroke-width="1.1"/>
<line x1="836" y1="530.5" x2="908" y2="530.5" stroke="#1a1a1a" stroke-width="1" stroke-dasharray="7.5,3.5"/>
<line x1="705" y1="530.5" x2="714" y2="530.5" stroke="#1a1a1a" stroke-width="1" stroke-dasharray="7.5,3.5"/>
<circle cx="825.8" cy="457.6" r="9.6" stroke="#1a1a1a" stroke-width="1.1" fill="#fff"/>
<circle cx="825.8" cy="457.6" r="5.6" stroke="#1a1a1a" stroke-width="1.1" fill="none"/>
<line x1="825.5" y1="449.4" x2="825.5" y2="454.7" stroke="#1a1a1a" stroke-width="0.9"/>
<rect x="793.5" y="463.8" width="39.3" height="12.5" rx="0" stroke="#1a1a1a" stroke-width="1.1" fill="#fff"/>
<line x1="793.5" y1="464" x2="832.8" y2="464" stroke="#1a1a1a" stroke-width="1.6"/>
<path d="M795,466 L797.5,476 M831.3,466 L828.8,476" stroke="#555" stroke-width="0.7" fill="none"/>
<line x1="832.8" y1="469.5" x2="872" y2="469.5" stroke="#1a1a1a" stroke-width="1.1"/>
<line x1="832.8" y1="474" x2="867.4" y2="474" stroke="#1a1a1a" stroke-width="1.9"/>
<line x1="832.8" y1="478.5" x2="867.4" y2="478.5" stroke="#1a1a1a" stroke-width="1.1"/>
<line x1="872" y1="469.3" x2="883.3" y2="470.8" stroke="#1a1a1a" stroke-width="1.2"/>
<path d="M866.2,474 L872,469.6" stroke="#1a1a1a" stroke-width="0.8" fill="none"/>
<line x1="657.5" y1="565.5" x2="712.3" y2="565.5" stroke="#1a1a1a" stroke-width="1.2"/>
<line x1="654.5" y1="582" x2="716.2" y2="582" stroke="#1a1a1a" stroke-width="2"/>
<line x1="657.5" y1="584.5" x2="716" y2="584.5" stroke="#1a1a1a" stroke-width="1"/>
<line x1="657.5" y1="601.5" x2="716" y2="601.5" stroke="#1a1a1a" stroke-width="1"/>
<line x1="654.5" y1="613" x2="716.2" y2="613" stroke="#1a1a1a" stroke-width="2.2"/>
<line x1="716" y1="582.3" x2="716" y2="614" stroke="#1a1a1a" stroke-width="1.6"/>
<line x1="712.5" y1="565.7" x2="712.5" y2="582.3" stroke="#1a1a1a" stroke-width="1.2"/>
<line x1="656.5" y1="566" x2="656.5" y2="614" stroke="#1a1a1a" stroke-width="1"/>
<path d="M718.5,569 L718.5,591 C718.5,594 720,595.9 723,595.9 L862,595.9 L875.8,570.5" stroke="#1a1a1a" stroke-width="1.2" fill="none"/>
<path d="M722,569.5 L722,584 C722,586 723,586.7 725,586.7 L854.3,586.7 L873.8,569" stroke="#1a1a1a" stroke-width="1" fill="none"/>
<path d="M738,591 L841.6,591 L838,595.9 L741,595.9 Z" stroke="#1a1a1a" stroke-width="1" fill="none"/>
<line x1="740" y1="593.5" x2="840" y2="593.5" stroke="#1a1a1a" stroke-width="0.7"/>
<rect x="833.4" y="603.1" width="24.4" height="16.2" rx="0" stroke="#1a1a1a" stroke-width="1.1" fill="#fff"/>
<rect x="837.7" y="596" width="15.6" height="7.1" rx="0" stroke="#1a1a1a" stroke-width="1" fill="none"/>
<line x1="853.2" y1="590.8" x2="864.3" y2="570.9" stroke="#1a1a1a" stroke-width="1"/>
<line x1="70.8" y1="45.5" x2="510" y2="45.5" stroke="#1a1a1a" stroke-width="1"/>
<polygon points="70.80,45.50 80.80,42.90 80.80,48.10" fill="#1a1a1a"/>
<polygon points="510.00,45.50 500.00,42.90 500.00,48.10" fill="#1a1a1a"/>
<line x1="70.5" y1="42" x2="70.5" y2="143" stroke="#1a1a1a" stroke-width="1"/>
<line x1="510.5" y1="42" x2="510.5" y2="350" stroke="#1a1a1a" stroke-width="1"/>
<text x="282.2" y="40.8" font-size="13.8" text-anchor="middle" fill="#1a1a1a" stroke="#1a1a1a" stroke-width="0.25" textLength="31" lengthAdjust="spacingAndGlyphs">1357</text>
<line x1="335.5" y1="29.5" x2="284" y2="96" stroke="#1a1a1a" stroke-width="0.9"/>
<text x="336.2" y="32.8" font-size="13.6" text-anchor="start" fill="#1a1a1a" stroke="#1a1a1a" stroke-width="0.1" font-style="italic" textLength="156" lengthAdjust="spacingAndGlyphs">Выхлопной глушитель</text>
<line x1="158.5" y1="62" x2="158.5" y2="110.3" stroke="#1a1a1a" stroke-width="1"/>
<line x1="155" y1="86.5" x2="186.3" y2="86.5" stroke="#1a1a1a" stroke-width="1"/>
<line x1="155" y1="110.5" x2="186.3" y2="110.5" stroke="#1a1a1a" stroke-width="1"/>
<polygon points="158.30,86.50 155.70,96.50 160.90,96.50" fill="#1a1a1a"/>
<polygon points="158.30,110.20 155.70,100.20 160.90,100.20" fill="#1a1a1a"/>
<text x="155.3" y="82.5" font-size="12.5" text-anchor="start" fill="#1a1a1a" stroke="#1a1a1a" stroke-width="0.25" transform="rotate(-90 155.3 82.5)" textLength="19.5" lengthAdjust="spacingAndGlyphs">G 2</text>
<line x1="158.5" y1="256.3" x2="158.5" y2="304" stroke="#1a1a1a" stroke-width="1"/>
<line x1="155" y1="256.5" x2="186.3" y2="256.5" stroke="#1a1a1a" stroke-width="1"/>
<line x1="155" y1="280.5" x2="186.3" y2="280.5" stroke="#1a1a1a" stroke-width="1"/>
<polygon points="158.30,256.30 155.70,266.30 160.90,266.30" fill="#1a1a1a"/>
<polygon points="158.30,280.10 155.70,270.10 160.90,270.10" fill="#1a1a1a"/>
<text x="155.3" y="304" font-size="12.5" text-anchor="start" fill="#1a1a1a" stroke="#1a1a1a" stroke-width="0.25" transform="rotate(-90 155.3 304)" textLength="19.5" lengthAdjust="spacingAndGlyphs">G 2</text>
<line x1="186.3" y1="86.5" x2="262" y2="86.5" stroke="#1a1a1a" stroke-width="1" stroke-dasharray="5,3"/>
<line x1="186.3" y1="110.5" x2="262" y2="110.5" stroke="#1a1a1a" stroke-width="1" stroke-dasharray="5,3"/>
<line x1="186.3" y1="256.5" x2="262" y2="256.5" stroke="#1a1a1a" stroke-width="1" stroke-dasharray="5,3"/>
<line x1="186.3" y1="280.5" x2="262" y2="280.5" stroke="#1a1a1a" stroke-width="1" stroke-dasharray="5,3"/>
<line x1="66" y1="183.5" x2="510" y2="183.5" stroke="#1a1a1a" stroke-width="1" stroke-dasharray="7.5,3.5"/>
<line x1="510" y1="183.5" x2="548" y2="183.5" stroke="#1a1a1a" stroke-width="1"/>
<line x1="545.5" y1="183.1" x2="545.5" y2="263" stroke="#1a1a1a" stroke-width="1"/>
<polygon points="545.50,183.10 542.90,193.10 548.10,193.10" fill="#1a1a1a"/>
<polygon points="545.50,263.00 542.90,253.00 548.10,253.00" fill="#1a1a1a"/>
<line x1="418.5" y1="263.5" x2="548" y2="263.5" stroke="#1a1a1a" stroke-width="1" stroke-dasharray="22,4"/>
<text x="542.2" y="223" font-size="12.5" text-anchor="middle" fill="#1a1a1a" stroke="#1a1a1a" stroke-width="0.25" transform="rotate(-90 542.2 223)" textLength="20.5" lengthAdjust="spacingAndGlyphs">248</text>
<line x1="418.5" y1="344.5" x2="510" y2="344.5" stroke="#1a1a1a" stroke-width="1"/>
<polygon points="418.50,344.50 428.50,341.90 428.50,347.10" fill="#1a1a1a"/>
<polygon points="510.00,344.50 500.00,341.90 500.00,347.10" fill="#1a1a1a"/>
<line x1="418.5" y1="310" x2="418.5" y2="350" stroke="#1a1a1a" stroke-width="1"/>
<text x="463.8" y="341.3" font-size="12" text-anchor="middle" fill="#1a1a1a" stroke="#1a1a1a" stroke-width="0.25" textLength="19.5" lengthAdjust="spacingAndGlyphs">282</text>
<line x1="376" y1="347" x2="426" y2="247.5" stroke="#1a1a1a" stroke-width="0.9"/>
<text x="373.2" y="345.3" font-size="12" text-anchor="start" fill="#1a1a1a" stroke="#1a1a1a" stroke-width="0.25" transform="rotate(-61 373.2 345.3)" textLength="19" lengthAdjust="spacingAndGlyphs">G 4</text>
<line x1="427" y1="270" x2="549" y2="317.1" stroke="#1a1a1a" stroke-width="0.8"/>
<text x="549.3" y="321.6" font-size="13.6" text-anchor="start" fill="#1a1a1a" stroke="#1a1a1a" stroke-width="0.1" font-style="italic" textLength="98" lengthAdjust="spacingAndGlyphs">Всасывающий</text>
<text x="549.3" y="342.3" font-size="13.6" text-anchor="start" fill="#1a1a1a" stroke="#1a1a1a" stroke-width="0.1" font-style="italic" textLength="68" lengthAdjust="spacingAndGlyphs">патрубок</text>
<line x1="168" y1="310" x2="251" y2="281" stroke="#1a1a1a" stroke-width="0.8"/>
<text x="45.4" y="321.9" font-size="13.6" text-anchor="start" fill="#1a1a1a" stroke="#1a1a1a" stroke-width="0.1" font-style="italic" textLength="222" lengthAdjust="spacingAndGlyphs">Вакуумный предохранительный</text>
<text x="45.4" y="340.9" font-size="13.6" text-anchor="start" fill="#1a1a1a" stroke="#1a1a1a" stroke-width="0.1" font-style="italic" textLength="150.5" lengthAdjust="spacingAndGlyphs">клапан с глушителем</text>
<line x1="72.5" y1="381.5" x2="314.5" y2="381.5" stroke="#333" stroke-width="1"/>
<polygon points="72.50,381.00 82.50,378.40 82.50,383.60" fill="#1a1a1a"/>
<polygon points="314.50,381.00 304.50,378.40 304.50,383.60" fill="#1a1a1a"/>
<text x="193" y="378.5" font-size="12" text-anchor="middle" fill="#1a1a1a" stroke="#1a1a1a" stroke-width="0.25" textLength="19.5" lengthAdjust="spacingAndGlyphs">747</text>
<line x1="72.5" y1="408.5" x2="198.5" y2="408.5" stroke="#333" stroke-width="1"/>
<polygon points="72.50,408.70 82.50,406.10 82.50,411.30" fill="#1a1a1a"/>
<polygon points="198.50,408.70 188.50,406.10 188.50,411.30" fill="#1a1a1a"/>
<text x="135.2" y="405.2" font-size="12" text-anchor="middle" fill="#1a1a1a" stroke="#1a1a1a" stroke-width="0.25" textLength="30" lengthAdjust="spacingAndGlyphs">389.5</text>
<line x1="72.5" y1="377" x2="72.5" y2="566" stroke="#1a1a1a" stroke-width="1"/>
<line x1="314.5" y1="377" x2="314.5" y2="480" stroke="#1a1a1a" stroke-width="1"/>
<line x1="198.5" y1="405.5" x2="198.5" y2="450" stroke="#1a1a1a" stroke-width="1"/>
<line x1="198.5" y1="468" x2="198.5" y2="620" stroke="#1a1a1a" stroke-width="1" stroke-dasharray="14,3,2,3"/>
<line x1="198.5" y1="620" x2="198.5" y2="656" stroke="#1a1a1a" stroke-width="1"/>
<line x1="351.5" y1="432" x2="351.5" y2="619.5" stroke="#1a1a1a" stroke-width="1"/>
<polygon points="351.30,432.00 348.70,442.00 353.90,442.00" fill="#1a1a1a"/>
<polygon points="351.30,619.50 348.70,609.50 353.90,609.50" fill="#1a1a1a"/>
<line x1="292.5" y1="432.5" x2="310" y2="432.5" stroke="#1a1a1a" stroke-width="1"/>
<line x1="317.5" y1="432.5" x2="354" y2="432.5" stroke="#1a1a1a" stroke-width="1"/>
<line x1="263.8" y1="619.5" x2="354.5" y2="619.5" stroke="#1a1a1a" stroke-width="1"/>
<text x="348.3" y="525.5" font-size="12" text-anchor="middle" fill="#1a1a1a" stroke="#1a1a1a" stroke-width="0.25" transform="rotate(-90 348.3 525.5)" textLength="19.5" lengthAdjust="spacingAndGlyphs">579</text>
<line x1="120.5" y1="652.5" x2="198.5" y2="652.5" stroke="#1a1a1a" stroke-width="1"/>
<polygon points="120.50,652.50 130.50,649.90 130.50,655.10" fill="#1a1a1a"/>
<polygon points="198.50,652.50 188.50,649.90 188.50,655.10" fill="#1a1a1a"/>
<text x="160" y="649.3" font-size="12" text-anchor="middle" fill="#1a1a1a" stroke="#1a1a1a" stroke-width="0.25" textLength="20" lengthAdjust="spacingAndGlyphs">240</text>
<line x1="120.5" y1="681.5" x2="276.3" y2="681.5" stroke="#1a1a1a" stroke-width="1"/>
<polygon points="120.50,681.20 130.50,678.60 130.50,683.80" fill="#1a1a1a"/>
<polygon points="276.30,681.20 266.30,678.60 266.30,683.80" fill="#1a1a1a"/>
<text x="198.7" y="678" font-size="12" text-anchor="middle" fill="#1a1a1a" stroke="#1a1a1a" stroke-width="0.25" textLength="20" lengthAdjust="spacingAndGlyphs">480</text>
<line x1="120.5" y1="604" x2="120.5" y2="685" stroke="#1a1a1a" stroke-width="1"/>
<line x1="276.5" y1="604" x2="276.5" y2="685" stroke="#1a1a1a" stroke-width="1"/>
<line x1="442.5" y1="530.4" x2="442.5" y2="619.5" stroke="#1a1a1a" stroke-width="1"/>
<polygon points="442.80,530.40 440.20,540.40 445.40,540.40" fill="#1a1a1a"/>
<polygon points="442.80,619.50 440.20,609.50 445.40,609.50" fill="#1a1a1a"/>
<line x1="440" y1="530.5" x2="458" y2="530.5" stroke="#1a1a1a" stroke-width="1"/>
<line x1="440" y1="619.5" x2="608.7" y2="619.5" stroke="#1a1a1a" stroke-width="1"/>
<text x="441" y="574" font-size="12" text-anchor="middle" fill="#1a1a1a" stroke="#1a1a1a" stroke-width="0.25" transform="rotate(-90 441 574)" textLength="19.5" lengthAdjust="spacingAndGlyphs">275</text>
<text x="491.1" y="652.1" font-size="12.5" text-anchor="start" fill="#1a1a1a" stroke="#1a1a1a" stroke-width="0.25" textLength="43" lengthAdjust="spacingAndGlyphs">M12x10</text>
<line x1="536" y1="648.5" x2="560.2" y2="648.5" stroke="#1a1a1a" stroke-width="1"/>
<line x1="560.2" y1="648.2" x2="597" y2="619.3" stroke="#1a1a1a" stroke-width="1"/>
<polygon points="597.00,619.30 587.53,623.43 590.74,627.52" fill="#1a1a1a"/>
<line x1="566.7" y1="652.5" x2="654.6" y2="652.5" stroke="#1a1a1a" stroke-width="1"/>
<polygon points="584.80,652.50 574.80,649.90 574.80,655.10" fill="#1a1a1a"/>
<polygon points="609.00,652.50 619.00,649.90 619.00,655.10" fill="#1a1a1a"/>
<line x1="584.5" y1="602.7" x2="584.5" y2="656.4" stroke="#1a1a1a" stroke-width="1"/>
<line x1="609.5" y1="602.7" x2="609.5" y2="656.4" stroke="#1a1a1a" stroke-width="1"/>
<text x="626.2" y="648.6" font-size="12" text-anchor="start" fill="#1a1a1a" stroke="#1a1a1a" stroke-width="0.25" textLength="25.5" lengthAdjust="spacingAndGlyphs">Ø 75</text>
<line x1="597.5" y1="656.4" x2="597.5" y2="684" stroke="#1a1a1a" stroke-width="1"/>
<line x1="597" y1="681.5" x2="904.3" y2="681.5" stroke="#1a1a1a" stroke-width="1"/>
<polygon points="597.00,681.20 607.00,678.60 607.00,683.80" fill="#1a1a1a"/>
<polygon points="845.50,681.20 835.50,678.60 835.50,683.80" fill="#1a1a1a"/>
<polygon points="845.50,681.20 855.50,678.60 855.50,683.80" fill="#1a1a1a"/>
<polygon points="904.30,681.20 894.30,678.60 894.30,683.80" fill="#1a1a1a"/>
<text x="721.8" y="678" font-size="12" text-anchor="middle" fill="#1a1a1a" stroke="#1a1a1a" stroke-width="0.25" textLength="20" lengthAdjust="spacingAndGlyphs">768</text>
<text x="875.9" y="678" font-size="12" text-anchor="middle" fill="#1a1a1a" stroke="#1a1a1a" stroke-width="0.25" textLength="19.5" lengthAdjust="spacingAndGlyphs">183</text>
<line x1="845.5" y1="590" x2="845.5" y2="685" stroke="#1a1a1a" stroke-width="1" stroke-dasharray="14,3,3,3"/>
<line x1="904.5" y1="625" x2="904.5" y2="685" stroke="#1a1a1a" stroke-width="1"/>
<line x1="904.5" y1="522.5" x2="904.5" y2="595.4" stroke="#1a1a1a" stroke-width="1"/>
<line x1="955.5" y1="464" x2="955.5" y2="619.5" stroke="#1a1a1a" stroke-width="1"/>
<polygon points="955.50,464.00 952.90,474.00 958.10,474.00" fill="#1a1a1a"/>
<polygon points="955.50,619.50 952.90,609.50 958.10,609.50" fill="#1a1a1a"/>
<line x1="792.4" y1="464.5" x2="959" y2="464.5" stroke="#1a1a1a" stroke-width="1"/>
<line x1="858" y1="619.5" x2="959" y2="619.5" stroke="#1a1a1a" stroke-width="1"/>
<text x="952.2" y="541" font-size="12" text-anchor="middle" fill="#1a1a1a" stroke="#1a1a1a" stroke-width="0.25" transform="rotate(-90 952.2 541)" textLength="30.5" lengthAdjust="spacingAndGlyphs">479.5</text>
<line x1="931.5" y1="575" x2="931.5" y2="603.3" stroke="#1a1a1a" stroke-width="1"/>
<polygon points="931.80,603.30 929.20,593.30 934.40,593.30" fill="#1a1a1a"/>
<line x1="931.5" y1="619.5" x2="931.5" y2="635" stroke="#1a1a1a" stroke-width="1"/>
<polygon points="931.80,619.50 929.20,629.50 934.40,629.50" fill="#1a1a1a"/>
<line x1="858" y1="603.5" x2="935" y2="603.5" stroke="#1a1a1a" stroke-width="1"/>
<text x="929" y="582" font-size="12" text-anchor="middle" fill="#1a1a1a" stroke="#1a1a1a" stroke-width="0.25" transform="rotate(-90 929 582)" textLength="13" lengthAdjust="spacingAndGlyphs">50</text>
<line x1="822" y1="409" x2="789" y2="505" stroke="#1a1a1a" stroke-width="0.8"/>
<text x="811.4" y="385" font-size="13.6" text-anchor="start" fill="#1a1a1a" stroke="#1a1a1a" stroke-width="0.1" font-style="italic" textLength="87" lengthAdjust="spacingAndGlyphs">Встроенный</text>
<text x="811.4" y="405.8" font-size="13.6" text-anchor="start" fill="#1a1a1a" stroke="#1a1a1a" stroke-width="0.1" font-style="italic" textLength="155.6" lengthAdjust="spacingAndGlyphs">всасывающий фильтр</text>
</svg></body></html>
